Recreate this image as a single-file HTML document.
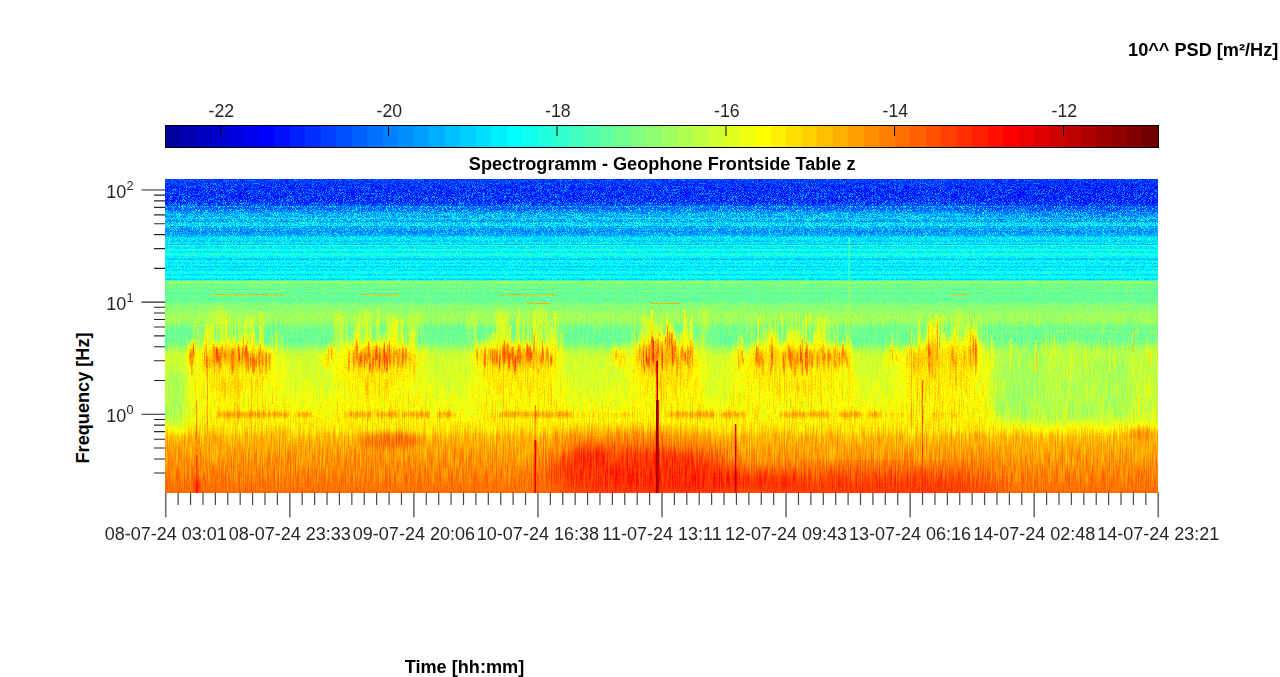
<!DOCTYPE html>
<html><head><meta charset="utf-8"><title>Spectrogramm</title><style>
html,body{margin:0;padding:0;background:#fff;}body{width:1280px;height:677px;overflow:hidden;font-family:"Liberation Sans",sans-serif;}
svg{position:absolute;left:0;top:0;display:block}text{font-family:"Liberation Sans",sans-serif;fill:#262626}
.b{font-weight:bold;font-size:18.15px;fill:#000}.t{font-size:18px}.c{font-size:17.7px}.s{font-size:12.6px}
</style></head><body>
<svg width="1280" height="677" viewBox="0 0 1280 677">
<rect width="1280" height="677" fill="#fff"/>
<defs><linearGradient id="gb" x1="0" y1="0" x2="0" y2="314.0" gradientUnits="userSpaceOnUse"><stop offset="0.0000" stop-color="#2b2b2b"/><stop offset="0.0318" stop-color="#272727"/><stop offset="0.0732" stop-color="#292929"/><stop offset="0.0892" stop-color="#343434"/><stop offset="0.1083" stop-color="#404040"/><stop offset="0.1242" stop-color="#474747"/><stop offset="0.1354" stop-color="#4e4e4e"/><stop offset="0.1465" stop-color="#4d4d4d"/><stop offset="0.1529" stop-color="#434343"/><stop offset="0.1752" stop-color="#414141"/><stop offset="0.1815" stop-color="#484848"/><stop offset="0.1863" stop-color="#545454"/><stop offset="0.2102" stop-color="#545454"/><stop offset="0.2389" stop-color="#575757"/><stop offset="0.2866" stop-color="#5a5a5a"/><stop offset="0.3201" stop-color="#5e5e5e"/><stop offset="0.3232" stop-color="#787878"/><stop offset="0.3599" stop-color="#767676"/><stop offset="0.3694" stop-color="#747474"/><stop offset="0.3901" stop-color="#747474"/><stop offset="0.3949" stop-color="#7c7c7c"/><stop offset="0.4172" stop-color="#7c7c7c"/><stop offset="0.4236" stop-color="#818181"/><stop offset="0.4522" stop-color="#818181"/><stop offset="0.4618" stop-color="#7c7c7c"/><stop offset="0.4777" stop-color="#757575"/><stop offset="0.5191" stop-color="#757575"/><stop offset="0.5414" stop-color="#838383"/><stop offset="0.5605" stop-color="#8d8d8d"/><stop offset="0.6210" stop-color="#8f8f8f"/><stop offset="0.6847" stop-color="#939393"/><stop offset="0.7484" stop-color="#999999"/><stop offset="0.7866" stop-color="#9f9f9f"/><stop offset="0.8025" stop-color="#a2a2a2"/><stop offset="0.8217" stop-color="#ababab"/><stop offset="0.8471" stop-color="#afafaf"/><stop offset="0.8917" stop-color="#b4b4b4"/><stop offset="0.9554" stop-color="#bababa"/><stop offset="0.9968" stop-color="#bebebe"/></linearGradient><filter id="jf" filterUnits="userSpaceOnUse" x="0" y="0" width="993.0" height="314.0" color-interpolation-filters="sRGB"><feTurbulence type="fractalNoise" baseFrequency="2.3 2.7" numOctaves="1" seed="5" result="t1"/><feColorMatrix in="t1" type="matrix" values="2.6 0 0 0 -0.8  2.6 0 0 0 -0.8  2.6 0 0 0 -0.8  0 0 0 0 1" result="n1l"/><feComponentTransfer in="n1l" result="n1"><feFuncR type="gamma" amplitude="1" exponent="2" offset="0"/><feFuncG type="gamma" amplitude="1" exponent="2" offset="0"/><feFuncB type="gamma" amplitude="1" exponent="2" offset="0"/></feComponentTransfer><feFlood flood-color="#000" flood-opacity="0.80" x="0" y="0" width="993.0" height="56" result="fa0"/><feFlood flood-color="#000" flood-opacity="0.40" x="0" y="56" width="993.0" height="46" result="fa1"/><feFlood flood-color="#000" flood-opacity="0.24" x="0" y="102" width="993.0" height="70" result="fa2"/><feFlood flood-color="#000" flood-opacity="0.16" x="0" y="172" width="993.0" height="78" result="fa3"/><feFlood flood-color="#000" flood-opacity="0.06" x="0" y="250" width="993.0" height="64" result="fa4"/><feMerge result="m1"><feMergeNode in="fa0"/><feMergeNode in="fa1"/><feMergeNode in="fa2"/><feMergeNode in="fa3"/><feMergeNode in="fa4"/></feMerge><feGaussianBlur in="m1" stdDeviation="0 8" result="m1b"/><feComposite in="n1" in2="m1b" operator="in" result="n1m"/><feFlood flood-color="#808080" result="mid"/><feFlood flood-color="#4d4d4d" result="midg"/><feMerge result="N1"><feMergeNode in="midg"/><feMergeNode in="n1m"/></feMerge><feTurbulence type="fractalNoise" baseFrequency="0.83 0.045" numOctaves="2" seed="9" result="t2"/><feColorMatrix in="t2" type="matrix" values="2.2 0 0 0 -0.6  2.2 0 0 0 -0.6  2.2 0 0 0 -0.6  0 0 0 0 1" result="n2"/><feFlood flood-color="#000" flood-opacity="0.35" x="0" y="130" width="993.0" height="80" result="sa0"/><feFlood flood-color="#000" flood-opacity="0.60" x="0" y="210" width="993.0" height="103" result="sa1"/><feMerge result="m2"><feMergeNode in="sa0"/><feMergeNode in="sa1"/></feMerge><feGaussianBlur in="m2" stdDeviation="0 12" result="m2b"/><feComposite in="n2" in2="m2b" operator="in" result="n2m"/><feMerge result="N2"><feMergeNode in="mid"/><feMergeNode in="n2m"/></feMerge><feComposite in="SourceGraphic" in2="N1" operator="arithmetic" k1="0" k2="1" k3="0.230" k4="-0.069" result="c1"/><feComposite in="c1" in2="N2" operator="arithmetic" k1="0" k2="1" k3="0.130" k4="-0.065" result="c2"/><feComponentTransfer in="c2"><feFuncR type="discrete" tableValues="0.000 0.000 0.000 0.000 0.000 0.000 0.000 0.000 0.000 0.000 0.000 0.000 0.000 0.000 0.000 0.000 0.000 0.000 0.000 0.000 0.000 0.000 0.000 0.062 0.125 0.188 0.250 0.312 0.375 0.438 0.500 0.562 0.625 0.688 0.750 0.812 0.875 0.938 1.000 1.000 1.000 1.000 1.000 1.000 1.000 1.000 1.000 1.000 1.000 1.000 1.000 1.000 1.000 1.000 1.000 0.938 0.875 0.812 0.750 0.688 0.625 0.562 0.500 0.438"/><feFuncG type="discrete" tableValues="0.000 0.000 0.000 0.000 0.000 0.000 0.000 0.062 0.125 0.188 0.250 0.312 0.375 0.438 0.500 0.562 0.625 0.688 0.750 0.812 0.875 0.938 1.000 1.000 1.000 1.000 1.000 1.000 1.000 1.000 1.000 1.000 1.000 1.000 1.000 1.000 1.000 1.000 1.000 0.938 0.875 0.812 0.750 0.688 0.625 0.562 0.500 0.438 0.375 0.312 0.250 0.188 0.125 0.062 0.000 0.000 0.000 0.000 0.000 0.000 0.000 0.000 0.000 0.000"/><feFuncB type="discrete" tableValues="0.625 0.688 0.750 0.812 0.875 0.938 1.000 1.000 1.000 1.000 1.000 1.000 1.000 1.000 1.000 1.000 1.000 1.000 1.000 1.000 1.000 1.000 1.000 0.938 0.875 0.812 0.750 0.688 0.625 0.562 0.500 0.438 0.375 0.312 0.250 0.188 0.125 0.062 0.000 0.000 0.000 0.000 0.000 0.000 0.000 0.000 0.000 0.000 0.000 0.000 0.000 0.000 0.000 0.000 0.000 0.000 0.000 0.000 0.000 0.000 0.000 0.000 0.000 0.000"/></feComponentTransfer></filter><filter id="bl6" x="-30%" y="-30%" width="160%" height="160%"><feGaussianBlur stdDeviation="6"/></filter><filter id="bl3" x="-30%" y="-30%" width="160%" height="160%"><feGaussianBlur stdDeviation="3"/></filter><filter id="bl07" x="-10%" y="-30%" width="120%" height="160%"><feGaussianBlur stdDeviation="0.6 1.5"/></filter><filter id="bl1" x="-10%" y="-50%" width="120%" height="200%"><feGaussianBlur stdDeviation="1.5"/></filter><filter id="bl12" x="-40%" y="-40%" width="180%" height="180%"><feGaussianBlur stdDeviation="12"/></filter><clipPath id="pc"><rect x="0.7" y="0.5" width="992.3" height="313.0"/></clipPath></defs><g transform="translate(165.0,179.0)" clip-path="url(#pc)"><g filter="url(#jf)"><rect x="0" y="0" width="993.0" height="314.0" fill="url(#gb)"/><rect x="0.0" y="40.0" width="994.0" height="1.5" fill="#646464" opacity="0.35"/><rect x="0.0" y="40.0" width="994.0" height="1.5" fill="#343434" opacity="0.35"/><rect x="0.0" y="40.7" width="994.0" height="1.5" fill="#646464" opacity="0.17"/><rect x="0.0" y="35.4" width="994.0" height="1.0" fill="#646464" opacity="0.37"/><rect x="0.0" y="45.7" width="994.0" height="1.5" fill="#646464" opacity="0.39"/><rect x="0.0" y="46.3" width="994.0" height="1.5" fill="#646464" opacity="0.31"/><rect x="0.0" y="51.8" width="994.0" height="1.0" fill="#343434" opacity="0.20"/><rect x="0.0" y="33.5" width="994.0" height="1.0" fill="#646464" opacity="0.23"/><rect x="0.0" y="44.3" width="994.0" height="1.0" fill="#646464" opacity="0.31"/><rect x="0.0" y="41.5" width="994.0" height="1.5" fill="#343434" opacity="0.31"/><rect x="0.0" y="38.6" width="994.0" height="1.5" fill="#646464" opacity="0.36"/><rect x="0.0" y="47.9" width="994.0" height="1.0" fill="#646464" opacity="0.28"/><rect x="0.0" y="26.9" width="994.0" height="1.5" fill="#646464" opacity="0.25"/><rect x="0.0" y="52.2" width="994.0" height="1.0" fill="#343434" opacity="0.15"/><rect x="0.0" y="47.2" width="994.0" height="1.0" fill="#343434" opacity="0.38"/><rect x="0.0" y="40.6" width="994.0" height="1.5" fill="#343434" opacity="0.17"/><rect x="0.0" y="61.5" width="994.0" height="1.5" fill="#444444" opacity="0.45"/><rect x="0.0" y="65.0" width="994.0" height="1.0" fill="#444444" opacity="0.62"/><rect x="0.0" y="66.0" width="994.0" height="1.0" fill="#7c7c7c" opacity="0.42"/><rect x="0.0" y="70.0" width="994.0" height="1.5" fill="#7c7c7c" opacity="0.32"/><rect x="0.0" y="74.5" width="994.0" height="2.0" fill="#7c7c7c" opacity="0.32"/><rect x="0.0" y="79.5" width="994.0" height="1.5" fill="#444444" opacity="0.75"/><rect x="0.0" y="84.0" width="994.0" height="1.0" fill="#444444" opacity="0.37"/><rect x="0.0" y="87.0" width="994.0" height="1.5" fill="#444444" opacity="0.57"/><rect x="0.0" y="90.0" width="994.0" height="2.0" fill="#444444" opacity="0.34"/><rect x="0.0" y="95.0" width="994.0" height="1.5" fill="#444444" opacity="0.47"/><rect x="0.0" y="99.5" width="994.0" height="2.0" fill="#444444" opacity="0.56"/><rect x="0.0" y="102.6" width="994.0" height="1.2" fill="#939393" opacity="0.55"/><rect x="0.0" y="113.3" width="994.0" height="1.0" fill="#686868" opacity="0.23"/><rect x="0.0" y="124.0" width="994.0" height="1.0" fill="#686868" opacity="0.23"/><rect x="0.0" y="149.2" width="994.0" height="1.0" fill="#686868" opacity="0.23"/><rect x="0.0" y="138.8" width="994.0" height="1.0" fill="#979797" opacity="0.19"/><rect x="0.0" y="134.4" width="994.0" height="1.0" fill="#686868" opacity="0.13"/><rect x="0.0" y="111.7" width="994.0" height="1.0" fill="#979797" opacity="0.17"/><rect x="0.0" y="150.1" width="994.0" height="1.0" fill="#686868" opacity="0.20"/><rect x="0.0" y="160.2" width="994.0" height="1.0" fill="#686868" opacity="0.21"/><rect x="0.0" y="161.7" width="994.0" height="1.0" fill="#979797" opacity="0.14"/><rect x="0.0" y="134.2" width="994.0" height="1.0" fill="#979797" opacity="0.23"/><rect x="0.0" y="109.5" width="994.0" height="1.0" fill="#686868" opacity="0.28"/><rect x="0.0" y="150.7" width="994.0" height="1.0" fill="#686868" opacity="0.19"/><rect x="0.0" y="120.2" width="994.0" height="1.0" fill="#686868" opacity="0.17"/><rect x="0.0" y="137.4" width="994.0" height="1.0" fill="#979797" opacity="0.14"/><rect x="0.0" y="113.4" width="994.0" height="1.0" fill="#686868" opacity="0.18"/><rect x="0.0" y="149.7" width="994.0" height="1.0" fill="#979797" opacity="0.29"/><ellipse cx="925.0" cy="17.0" rx="120.0" ry="14.0" fill="#242424" opacity="0.55" filter="url(#bl12)"/><ellipse cx="135.0" cy="14.0" rx="90.0" ry="9.0" fill="#282828" opacity="0.35" filter="url(#bl12)"/><ellipse cx="395.0" cy="14.0" rx="110.0" ry="9.0" fill="#282828" opacity="0.35" filter="url(#bl12)"/><ellipse cx="635.0" cy="14.0" rx="100.0" ry="9.0" fill="#282828" opacity="0.30" filter="url(#bl12)"/><ellipse cx="11.0" cy="221.0" rx="16.0" ry="30.0" fill="#808080" opacity="0.80" filter="url(#bl6)"/><ellipse cx="880.0" cy="226.0" rx="50.0" ry="16.0" fill="#808080" opacity="0.70" filter="url(#bl6)"/><ellipse cx="910.0" cy="206.0" rx="80.0" ry="35.0" fill="#878787" opacity="0.45" filter="url(#bl12)"/><ellipse cx="869.0" cy="186.0" rx="7.0" ry="30.0" fill="#707070" opacity="0.70" filter="url(#bl6)"/><rect x="831.0" y="171.0" width="175" height="72" fill="#818181" opacity="0.75" filter="url(#bl6)"/><g filter="url(#bl3)" style="mix-blend-mode:lighten"><rect x="21.0" y="183.3" width="4.4" height="82.7" fill="#9d9d9d" opacity="0.45"/><rect x="25.4" y="163.5" width="3.2" height="102.5" fill="#9d9d9d" opacity="0.38"/><rect x="28.6" y="168.0" width="2.3" height="98.0" fill="#9d9d9d" opacity="0.41"/><rect x="30.9" y="140.1" width="3.8" height="125.9" fill="#9d9d9d" opacity="0.62"/><rect x="34.7" y="179.6" width="2.5" height="86.4" fill="#9d9d9d" opacity="0.46"/><rect x="37.2" y="159.1" width="3.9" height="106.9" fill="#9d9d9d" opacity="0.76"/><rect x="41.1" y="136.3" width="2.1" height="129.7" fill="#9d9d9d" opacity="0.60"/><rect x="43.2" y="128.6" width="2.0" height="137.4" fill="#9d9d9d" opacity="0.57"/><rect x="45.3" y="161.9" width="3.7" height="104.1" fill="#9d9d9d" opacity="0.74"/><rect x="48.9" y="163.8" width="3.8" height="102.2" fill="#9d9d9d" opacity="0.70"/><rect x="52.8" y="127.3" width="4.1" height="138.7" fill="#9d9d9d" opacity="0.89"/><rect x="56.8" y="169.2" width="2.5" height="96.8" fill="#9d9d9d" opacity="0.72"/><rect x="59.3" y="159.8" width="5.6" height="106.2" fill="#9d9d9d" opacity="0.78"/><rect x="64.9" y="167.7" width="4.1" height="98.3" fill="#9d9d9d" opacity="0.92"/><rect x="68.9" y="156.3" width="4.0" height="109.7" fill="#9d9d9d" opacity="0.65"/><rect x="72.9" y="168.7" width="4.5" height="97.3" fill="#9d9d9d" opacity="0.63"/><rect x="77.5" y="156.2" width="2.9" height="109.8" fill="#9d9d9d" opacity="0.63"/><rect x="80.3" y="159.3" width="2.5" height="106.7" fill="#9d9d9d" opacity="0.56"/><rect x="82.9" y="173.5" width="2.3" height="92.5" fill="#9d9d9d" opacity="0.58"/><rect x="85.1" y="172.7" width="3.9" height="93.3" fill="#9d9d9d" opacity="0.68"/><rect x="89.0" y="167.9" width="4.1" height="98.1" fill="#9d9d9d" opacity="0.83"/><rect x="93.1" y="161.2" width="4.5" height="104.8" fill="#9d9d9d" opacity="0.60"/><rect x="97.6" y="170.4" width="4.4" height="95.6" fill="#9d9d9d" opacity="0.60"/><rect x="102.0" y="169.5" width="4.6" height="96.5" fill="#9d9d9d" opacity="0.59"/><rect x="106.6" y="175.9" width="2.8" height="90.1" fill="#9d9d9d" opacity="0.66"/><rect x="109.4" y="181.8" width="5.2" height="84.2" fill="#9d9d9d" opacity="0.43"/><rect x="114.6" y="176.8" width="4.1" height="89.2" fill="#9d9d9d" opacity="0.38"/><rect x="118.7" y="181.1" width="2.8" height="84.9" fill="#9d9d9d" opacity="0.54"/></g><ellipse cx="70.0" cy="191.0" rx="36.0" ry="24.0" fill="#a9a9a9" opacity="0.40" filter="url(#bl6)"/><rect x="94.5" y="132.3" width="1.5" height="46.6" fill="#9f9f9f" opacity="0.63"/><rect x="70.0" y="172.4" width="1.0" height="86.8" fill="#adadad" opacity="0.33"/><rect x="61.4" y="181.5" width="1.0" height="59.8" fill="#a3a3a3" opacity="0.55"/><rect x="22.6" y="159.9" width="1.5" height="28.7" fill="#9e9e9e" opacity="0.33"/><rect x="41.7" y="198.7" width="1.0" height="51.1" fill="#aeaeae" opacity="0.27"/><rect x="108.4" y="205.1" width="1.0" height="40.1" fill="#afafaf" opacity="0.24"/><rect x="109.4" y="179.9" width="1.0" height="44.8" fill="#a8a8a8" opacity="0.29"/><rect x="95.8" y="132.3" width="1.0" height="67.1" fill="#9d9d9d" opacity="0.27"/><rect x="73.2" y="202.6" width="1.0" height="39.5" fill="#b3b3b3" opacity="0.56"/><rect x="71.7" y="183.6" width="1.0" height="77.0" fill="#ababab" opacity="0.49"/><rect x="94.8" y="151.7" width="1.0" height="48.4" fill="#9f9f9f" opacity="0.59"/><rect x="75.8" y="143.2" width="1.0" height="57.4" fill="#9c9c9c" opacity="0.36"/><rect x="74.3" y="147.5" width="1.0" height="37.9" fill="#9e9e9e" opacity="0.57"/><rect x="24.7" y="186.6" width="1.0" height="52.4" fill="#afafaf" opacity="0.25"/><rect x="69.1" y="168.6" width="1.0" height="76.6" fill="#a8a8a8" opacity="0.58"/><rect x="110.6" y="152.0" width="2.0" height="23.4" fill="#a4a4a4" opacity="0.46"/><rect x="110.3" y="138.4" width="1.0" height="47.2" fill="#a4a4a4" opacity="0.23"/><rect x="96.8" y="138.6" width="1.5" height="40.4" fill="#9c9c9c" opacity="0.39"/><rect x="81.5" y="156.5" width="1.5" height="18.8" fill="#a1a1a1" opacity="0.60"/><rect x="106.4" y="156.8" width="1.0" height="43.1" fill="#9f9f9f" opacity="0.49"/><rect x="73.3" y="137.0" width="1.0" height="53.0" fill="#9b9b9b" opacity="0.63"/><rect x="99.8" y="178.6" width="1.0" height="56.5" fill="#b2b2b2" opacity="0.26"/><rect x="117.8" y="171.4" width="1.0" height="60.4" fill="#aeaeae" opacity="0.19"/><rect x="31.3" y="182.9" width="1.0" height="73.7" fill="#a2a2a2" opacity="0.26"/><rect x="87.8" y="137.5" width="1.5" height="57.4" fill="#999999" opacity="0.49"/><rect x="94.8" y="156.4" width="1.0" height="21.2" fill="#9e9e9e" opacity="0.27"/><rect x="95.2" y="164.6" width="1.0" height="23.2" fill="#9a9a9a" opacity="0.34"/><rect x="102.7" y="203.1" width="1.0" height="22.2" fill="#a1a1a1" opacity="0.44"/><rect x="66.4" y="179.1" width="1.0" height="62.9" fill="#aaaaaa" opacity="0.40"/><rect x="79.7" y="155.3" width="1.0" height="45.3" fill="#9d9d9d" opacity="0.45"/><rect x="57.5" y="190.2" width="1.0" height="35.1" fill="#afafaf" opacity="0.35"/><rect x="30.1" y="201.0" width="1.0" height="60.9" fill="#b2b2b2" opacity="0.29"/><rect x="40.3" y="144.6" width="1.5" height="53.1" fill="#a4a4a4" opacity="0.51"/><rect x="96.7" y="182.2" width="1.0" height="79.1" fill="#b1b1b1" opacity="0.42"/><rect x="95.7" y="182.2" width="1.0" height="71.3" fill="#a1a1a1" opacity="0.32"/><rect x="67.0" y="142.2" width="1.0" height="51.2" fill="#9b9b9b" opacity="0.72"/><rect x="85.9" y="154.3" width="1.0" height="36.7" fill="#9d9d9d" opacity="0.71"/><rect x="83.7" y="196.5" width="1.0" height="68.6" fill="#a0a0a0" opacity="0.45"/><rect x="92.9" y="145.6" width="1.0" height="27.2" fill="#a0a0a0" opacity="0.27"/><rect x="46.8" y="143.4" width="2.0" height="46.5" fill="#a5a5a5" opacity="0.49"/><rect x="117.5" y="165.7" width="1.0" height="8.0" fill="#9d9d9d" opacity="0.40"/><rect x="59.0" y="200.2" width="1.0" height="45.2" fill="#ababab" opacity="0.39"/><rect x="69.5" y="143.7" width="1.5" height="38.2" fill="#9e9e9e" opacity="0.42"/><rect x="111.2" y="195.9" width="1.0" height="26.3" fill="#afafaf" opacity="0.28"/><rect x="82.8" y="154.9" width="1.5" height="18.0" fill="#a2a2a2" opacity="0.31"/><rect x="116.9" y="168.9" width="1.0" height="92.8" fill="#a8a8a8" opacity="0.23"/><rect x="115.4" y="155.1" width="2.0" height="48.7" fill="#999999" opacity="0.40"/><rect x="45.5" y="168.0" width="1.0" height="71.8" fill="#a2a2a2" opacity="0.48"/><rect x="56.2" y="143.1" width="2.0" height="32.8" fill="#9e9e9e" opacity="0.40"/><rect x="77.9" y="158.0" width="1.0" height="31.6" fill="#a5a5a5" opacity="0.62"/><rect x="44.9" y="164.1" width="1.5" height="34.3" fill="#9b9b9b" opacity="0.49"/><rect x="91.6" y="173.6" width="1.0" height="59.9" fill="#a4a4a4" opacity="0.52"/><rect x="70.2" y="173.8" width="1.0" height="77.9" fill="#acacac" opacity="0.25"/><rect x="46.9" y="132.2" width="1.5" height="46.6" fill="#989898" opacity="0.30"/><rect x="86.9" y="153.3" width="2.0" height="30.8" fill="#9c9c9c" opacity="0.42"/><rect x="69.5" y="161.2" width="2.0" height="37.9" fill="#a3a3a3" opacity="0.58"/><rect x="95.8" y="146.9" width="1.0" height="33.1" fill="#9d9d9d" opacity="0.51"/><rect x="117.0" y="156.0" width="1.0" height="41.1" fill="#9d9d9d" opacity="0.26"/><rect x="31.3" y="169.1" width="1.0" height="55.6" fill="#ababab" opacity="0.28"/><rect x="87.8" y="158.7" width="1.0" height="14.9" fill="#a4a4a4" opacity="0.53"/><rect x="88.7" y="158.4" width="1.0" height="24.0" fill="#9a9a9a" opacity="0.55"/><rect x="53.4" y="178.9" width="1.0" height="61.9" fill="#ababab" opacity="0.53"/><rect x="88.0" y="149.7" width="2.0" height="56.0" fill="#9c9c9c" opacity="0.45"/><rect x="111.7" y="175.9" width="1.0" height="61.3" fill="#a7a7a7" opacity="0.23"/><rect x="60.0" y="136.5" width="2.0" height="54.2" fill="#9f9f9f" opacity="0.66"/><rect x="76.0" y="157.2" width="1.5" height="44.6" fill="#a3a3a3" opacity="0.40"/><rect x="27.5" y="146.0" width="2.0" height="25.8" fill="#989898" opacity="0.33"/><rect x="97.7" y="134.6" width="1.5" height="62.2" fill="#999999" opacity="0.49"/><rect x="35.8" y="192.0" width="1.0" height="40.1" fill="#a4a4a4" opacity="0.38"/><rect x="72.1" y="181.8" width="1.0" height="54.4" fill="#b3b3b3" opacity="0.48"/><rect x="69.4" y="155.7" width="1.0" height="40.1" fill="#9d9d9d" opacity="0.67"/><rect x="86.0" y="198.2" width="1.0" height="60.3" fill="#b1b1b1" opacity="0.55"/><ellipse cx="26.5" cy="178.0" rx="4.8" ry="10.0" fill="#b5b5b5" opacity="0.43" filter="url(#bl3)"/><g filter="url(#bl07)"><rect x="27.5" y="160.9" width="2.0" height="17.0" fill="#d1d1d1" opacity="0.53"/><rect x="24.7" y="173.0" width="2.0" height="7.4" fill="#cccccc" opacity="0.35"/><rect x="25.7" y="164.5" width="2.0" height="18.3" fill="#c3c3c3" opacity="0.28"/><rect x="27.5" y="168.9" width="1.0" height="16.6" fill="#d1d1d1" opacity="0.48"/><rect x="23.1" y="163.4" width="1.0" height="9.7" fill="#c0c0c0" opacity="0.31"/><rect x="24.6" y="171.3" width="1.0" height="15.8" fill="#c6c6c6" opacity="0.53"/><rect x="25.8" y="181.8" width="2.0" height="14.4" fill="#d0d0d0" opacity="0.40"/><rect x="25.8" y="161.4" width="1.0" height="19.3" fill="#c7c7c7" opacity="0.31"/></g><ellipse cx="43.5" cy="178.0" rx="6.7" ry="10.0" fill="#b5b5b5" opacity="0.37" filter="url(#bl3)"/><g filter="url(#bl07)"><rect x="38.5" y="182.0" width="1.5" height="10.8" fill="#cecece" opacity="0.23"/><rect x="48.2" y="165.6" width="2.0" height="18.4" fill="#d1d1d1" opacity="0.33"/><rect x="40.7" y="162.5" width="1.5" height="11.2" fill="#bfbfbf" opacity="0.46"/><rect x="46.9" y="179.8" width="1.5" height="7.0" fill="#c8c8c8" opacity="0.22"/><rect x="44.3" y="170.2" width="1.0" height="18.7" fill="#cfcfcf" opacity="0.23"/><rect x="41.0" y="173.5" width="1.0" height="15.7" fill="#d1d1d1" opacity="0.40"/><rect x="38.9" y="171.6" width="1.0" height="12.6" fill="#cecece" opacity="0.32"/><rect x="48.1" y="167.9" width="2.0" height="6.4" fill="#c0c0c0" opacity="0.36"/><rect x="43.8" y="178.9" width="1.5" height="9.7" fill="#c5c5c5" opacity="0.36"/><rect x="49.0" y="179.2" width="1.0" height="15.0" fill="#c4c4c4" opacity="0.40"/><rect x="39.2" y="163.4" width="1.0" height="19.5" fill="#cbcbcb" opacity="0.21"/></g><ellipse cx="71.0" cy="178.0" rx="22.4" ry="10.0" fill="#b5b5b5" opacity="0.62" filter="url(#bl6)"/><g filter="url(#bl07)"><rect x="65.6" y="174.0" width="1.0" height="15.7" fill="#c2c2c2" opacity="0.40"/><rect x="83.0" y="176.7" width="1.0" height="15.8" fill="#c2c2c2" opacity="0.52"/><rect x="72.7" y="164.9" width="1.5" height="9.5" fill="#cdcdcd" opacity="0.60"/><rect x="52.8" y="176.7" width="1.5" height="6.6" fill="#d2d2d2" opacity="0.60"/><rect x="80.8" y="178.0" width="2.0" height="10.0" fill="#bdbdbd" opacity="0.41"/><rect x="53.2" y="170.4" width="2.0" height="7.7" fill="#bcbcbc" opacity="0.56"/><rect x="80.0" y="167.0" width="1.0" height="6.5" fill="#bfbfbf" opacity="0.41"/><rect x="66.9" y="183.4" width="1.0" height="11.4" fill="#cbcbcb" opacity="0.70"/><rect x="85.1" y="178.1" width="1.5" height="10.8" fill="#d1d1d1" opacity="0.63"/><rect x="81.0" y="165.9" width="1.0" height="16.8" fill="#cbcbcb" opacity="0.62"/><rect x="49.8" y="169.9" width="1.5" height="10.0" fill="#c3c3c3" opacity="0.55"/><rect x="73.5" y="174.7" width="1.0" height="9.4" fill="#cacaca" opacity="0.42"/><rect x="82.7" y="173.5" width="1.0" height="18.5" fill="#c4c4c4" opacity="0.58"/><rect x="55.2" y="167.9" width="1.0" height="12.7" fill="#c9c9c9" opacity="0.36"/><rect x="78.0" y="153.9" width="1.0" height="16.6" fill="#c1c1c1" opacity="0.61"/><rect x="79.7" y="166.8" width="2.0" height="10.4" fill="#d0d0d0" opacity="0.55"/><rect x="81.1" y="184.8" width="1.0" height="8.6" fill="#c9c9c9" opacity="0.47"/><rect x="89.0" y="181.1" width="1.0" height="14.0" fill="#d2d2d2" opacity="0.35"/><rect x="79.1" y="172.3" width="1.5" height="10.5" fill="#cfcfcf" opacity="0.43"/><rect x="73.1" y="175.4" width="1.0" height="7.7" fill="#c3c3c3" opacity="0.65"/><rect x="81.5" y="173.3" width="1.0" height="10.7" fill="#bfbfbf" opacity="0.54"/><rect x="50.5" y="169.7" width="1.5" height="11.1" fill="#c8c8c8" opacity="0.47"/><rect x="74.0" y="172.5" width="1.0" height="10.0" fill="#cdcdcd" opacity="0.70"/><rect x="66.7" y="170.4" width="2.0" height="10.2" fill="#cdcdcd" opacity="0.57"/><rect x="92.8" y="169.3" width="2.0" height="17.6" fill="#cfcfcf" opacity="0.40"/><rect x="54.0" y="176.2" width="2.0" height="12.8" fill="#d1d1d1" opacity="0.49"/><rect x="51.4" y="168.2" width="2.0" height="15.9" fill="#cdcdcd" opacity="0.62"/><rect x="82.1" y="172.5" width="1.0" height="6.0" fill="#cfcfcf" opacity="0.46"/><rect x="87.4" y="175.2" width="2.0" height="19.6" fill="#cccccc" opacity="0.59"/><rect x="59.5" y="171.8" width="1.0" height="8.5" fill="#d3d3d3" opacity="0.68"/><rect x="87.3" y="177.9" width="2.0" height="10.5" fill="#c9c9c9" opacity="0.42"/><rect x="77.6" y="172.5" width="1.0" height="6.1" fill="#bebebe" opacity="0.59"/><rect x="90.8" y="176.8" width="1.0" height="5.0" fill="#cdcdcd" opacity="0.36"/><rect x="56.6" y="165.9" width="1.0" height="13.0" fill="#c4c4c4" opacity="0.61"/><rect x="51.0" y="177.5" width="1.5" height="5.5" fill="#c3c3c3" opacity="0.57"/><rect x="90.1" y="180.1" width="1.5" height="8.1" fill="#d0d0d0" opacity="0.66"/><rect x="51.6" y="172.2" width="1.5" height="9.7" fill="#d1d1d1" opacity="0.36"/><rect x="77.0" y="169.2" width="1.0" height="13.0" fill="#c0c0c0" opacity="0.75"/><rect x="51.2" y="168.0" width="1.5" height="6.6" fill="#d2d2d2" opacity="0.47"/><rect x="67.5" y="171.9" width="2.0" height="19.4" fill="#c5c5c5" opacity="0.43"/><rect x="86.9" y="171.2" width="1.0" height="6.8" fill="#c2c2c2" opacity="0.67"/></g><ellipse cx="100.5" cy="178.0" rx="8.6" ry="10.0" fill="#b5b5b5" opacity="0.37" filter="url(#bl3)"/><g filter="url(#bl07)"><rect x="100.5" y="168.2" width="1.0" height="17.1" fill="#c9c9c9" opacity="0.27"/><rect x="97.5" y="172.8" width="1.0" height="18.9" fill="#c2c2c2" opacity="0.38"/><rect x="94.3" y="177.4" width="1.0" height="12.9" fill="#bbbbbb" opacity="0.37"/><rect x="101.1" y="171.7" width="1.0" height="11.4" fill="#bfbfbf" opacity="0.48"/><rect x="95.8" y="179.1" width="1.0" height="5.4" fill="#d3d3d3" opacity="0.22"/><rect x="99.9" y="178.0" width="2.0" height="16.3" fill="#bbbbbb" opacity="0.45"/><rect x="93.9" y="177.4" width="1.5" height="18.6" fill="#cbcbcb" opacity="0.42"/><rect x="100.8" y="175.4" width="1.0" height="12.6" fill="#c9c9c9" opacity="0.42"/><rect x="94.7" y="163.9" width="1.5" height="13.2" fill="#cecece" opacity="0.42"/><rect x="96.5" y="175.1" width="1.0" height="12.3" fill="#d0d0d0" opacity="0.37"/><rect x="96.9" y="179.4" width="2.0" height="5.8" fill="#d0d0d0" opacity="0.26"/><rect x="95.3" y="189.3" width="2.0" height="5.3" fill="#cfcfcf" opacity="0.35"/><rect x="103.8" y="175.5" width="1.0" height="6.7" fill="#c9c9c9" opacity="0.36"/><rect x="104.9" y="172.6" width="1.0" height="8.6" fill="#bdbdbd" opacity="0.32"/><rect x="103.4" y="173.5" width="2.0" height="16.7" fill="#bdbdbd" opacity="0.43"/></g><g filter="url(#bl3)" style="mix-blend-mode:lighten"><rect x="167.0" y="168.6" width="2.7" height="97.4" fill="#9d9d9d" opacity="0.54"/><rect x="169.7" y="132.7" width="5.3" height="133.3" fill="#9d9d9d" opacity="0.45"/><rect x="175.0" y="133.9" width="2.9" height="132.1" fill="#9d9d9d" opacity="0.61"/><rect x="177.9" y="162.6" width="5.9" height="103.4" fill="#9d9d9d" opacity="0.64"/><rect x="183.8" y="162.1" width="2.2" height="103.9" fill="#9d9d9d" opacity="0.50"/><rect x="186.0" y="162.5" width="3.6" height="103.5" fill="#9d9d9d" opacity="0.50"/><rect x="189.5" y="176.7" width="2.1" height="89.3" fill="#9d9d9d" opacity="0.75"/><rect x="191.7" y="159.7" width="2.9" height="106.3" fill="#9d9d9d" opacity="0.59"/><rect x="194.6" y="173.8" width="3.8" height="92.2" fill="#9d9d9d" opacity="0.64"/><rect x="198.5" y="132.6" width="5.9" height="133.4" fill="#9d9d9d" opacity="0.78"/><rect x="204.4" y="159.1" width="2.2" height="106.9" fill="#9d9d9d" opacity="0.88"/><rect x="206.6" y="170.8" width="4.4" height="95.2" fill="#9d9d9d" opacity="0.70"/><rect x="211.0" y="159.4" width="5.4" height="106.6" fill="#9d9d9d" opacity="0.64"/><rect x="216.3" y="155.1" width="3.4" height="110.9" fill="#9d9d9d" opacity="0.61"/><rect x="219.7" y="156.0" width="2.8" height="110.0" fill="#9d9d9d" opacity="0.67"/><rect x="222.5" y="173.5" width="3.8" height="92.5" fill="#9d9d9d" opacity="0.88"/><rect x="226.3" y="136.7" width="2.8" height="129.3" fill="#9d9d9d" opacity="0.67"/><rect x="229.2" y="153.2" width="3.1" height="112.8" fill="#9d9d9d" opacity="0.62"/><rect x="232.3" y="173.8" width="3.6" height="92.2" fill="#9d9d9d" opacity="0.61"/><rect x="235.8" y="157.9" width="3.4" height="108.1" fill="#9d9d9d" opacity="0.62"/><rect x="239.3" y="171.6" width="5.1" height="94.4" fill="#9d9d9d" opacity="0.48"/><rect x="244.3" y="139.4" width="3.3" height="126.6" fill="#9d9d9d" opacity="0.55"/><rect x="247.6" y="132.5" width="5.1" height="133.5" fill="#9d9d9d" opacity="0.49"/><rect x="252.7" y="165.0" width="2.2" height="101.0" fill="#9d9d9d" opacity="0.39"/><rect x="254.9" y="172.3" width="3.2" height="93.7" fill="#9d9d9d" opacity="0.39"/><rect x="258.1" y="168.7" width="4.8" height="97.3" fill="#9d9d9d" opacity="0.53"/></g><ellipse cx="213.0" cy="191.0" rx="33.6" ry="24.0" fill="#a9a9a9" opacity="0.40" filter="url(#bl6)"/><rect x="181.2" y="143.2" width="2.0" height="52.7" fill="#999999" opacity="0.40"/><rect x="200.0" y="143.4" width="1.0" height="49.0" fill="#989898" opacity="0.30"/><rect x="224.7" y="159.5" width="1.5" height="45.7" fill="#a1a1a1" opacity="0.32"/><rect x="244.8" y="145.9" width="1.5" height="29.3" fill="#9b9b9b" opacity="0.43"/><rect x="176.1" y="148.7" width="2.0" height="24.4" fill="#a4a4a4" opacity="0.28"/><rect x="231.3" y="164.5" width="1.0" height="13.5" fill="#9c9c9c" opacity="0.57"/><rect x="214.8" y="202.3" width="1.0" height="54.9" fill="#a9a9a9" opacity="0.34"/><rect x="244.8" y="166.7" width="1.0" height="35.9" fill="#9c9c9c" opacity="0.24"/><rect x="204.4" y="147.6" width="2.0" height="43.9" fill="#a1a1a1" opacity="0.69"/><rect x="174.5" y="146.6" width="1.5" height="37.4" fill="#9b9b9b" opacity="0.37"/><rect x="184.7" y="154.8" width="1.5" height="49.6" fill="#989898" opacity="0.49"/><rect x="187.5" y="133.3" width="2.0" height="56.7" fill="#989898" opacity="0.28"/><rect x="209.8" y="164.8" width="1.0" height="19.7" fill="#a1a1a1" opacity="0.42"/><rect x="212.6" y="129.8" width="1.5" height="62.4" fill="#9b9b9b" opacity="0.61"/><rect x="189.1" y="151.3" width="1.0" height="33.5" fill="#9f9f9f" opacity="0.58"/><rect x="236.9" y="161.6" width="1.5" height="40.3" fill="#9b9b9b" opacity="0.30"/><rect x="169.7" y="174.3" width="1.0" height="64.5" fill="#a2a2a2" opacity="0.17"/><rect x="182.5" y="158.1" width="1.5" height="41.1" fill="#9d9d9d" opacity="0.33"/><rect x="235.4" y="139.7" width="1.5" height="40.0" fill="#a1a1a1" opacity="0.62"/><rect x="234.4" y="205.6" width="1.0" height="52.2" fill="#b1b1b1" opacity="0.32"/><rect x="244.4" y="157.9" width="2.0" height="14.5" fill="#a4a4a4" opacity="0.24"/><rect x="190.9" y="160.3" width="1.5" height="24.4" fill="#9d9d9d" opacity="0.53"/><rect x="184.5" y="174.2" width="1.0" height="72.2" fill="#a2a2a2" opacity="0.47"/><rect x="225.7" y="157.0" width="1.0" height="23.4" fill="#999999" opacity="0.45"/><rect x="228.2" y="136.7" width="1.0" height="34.8" fill="#9b9b9b" opacity="0.40"/><rect x="190.7" y="181.5" width="1.0" height="70.1" fill="#a2a2a2" opacity="0.27"/><rect x="257.8" y="173.8" width="1.0" height="63.3" fill="#aaaaaa" opacity="0.29"/><rect x="204.4" y="199.3" width="1.0" height="60.2" fill="#a3a3a3" opacity="0.27"/><rect x="207.5" y="192.0" width="1.0" height="39.1" fill="#aeaeae" opacity="0.39"/><rect x="180.8" y="157.9" width="1.5" height="20.6" fill="#a3a3a3" opacity="0.27"/><rect x="183.8" y="166.8" width="2.0" height="13.0" fill="#9d9d9d" opacity="0.29"/><rect x="247.6" y="154.6" width="2.0" height="26.0" fill="#9b9b9b" opacity="0.28"/><rect x="211.4" y="138.6" width="1.0" height="34.2" fill="#989898" opacity="0.64"/><rect x="228.3" y="142.3" width="1.0" height="33.5" fill="#a5a5a5" opacity="0.45"/><rect x="170.9" y="156.5" width="1.0" height="34.0" fill="#9f9f9f" opacity="0.33"/><rect x="224.1" y="164.2" width="2.0" height="37.1" fill="#9f9f9f" opacity="0.70"/><rect x="172.2" y="203.8" width="1.0" height="41.5" fill="#adadad" opacity="0.20"/><rect x="170.2" y="138.1" width="1.0" height="49.2" fill="#989898" opacity="0.26"/><rect x="237.0" y="140.3" width="2.0" height="63.1" fill="#9d9d9d" opacity="0.56"/><rect x="242.5" y="205.4" width="1.0" height="20.1" fill="#b2b2b2" opacity="0.30"/><rect x="231.5" y="164.0" width="1.0" height="7.9" fill="#9b9b9b" opacity="0.43"/><rect x="201.2" y="198.4" width="1.0" height="39.0" fill="#acacac" opacity="0.36"/><rect x="193.1" y="178.9" width="1.0" height="46.4" fill="#a6a6a6" opacity="0.46"/><rect x="187.0" y="187.8" width="1.0" height="63.8" fill="#a3a3a3" opacity="0.24"/><rect x="180.9" y="148.9" width="1.0" height="22.4" fill="#9d9d9d" opacity="0.33"/><rect x="216.3" y="174.2" width="1.0" height="86.4" fill="#a6a6a6" opacity="0.51"/><rect x="177.8" y="183.2" width="1.0" height="81.1" fill="#a4a4a4" opacity="0.27"/><rect x="231.5" y="140.4" width="1.5" height="54.3" fill="#a4a4a4" opacity="0.59"/><rect x="215.3" y="156.0" width="1.0" height="38.2" fill="#9a9a9a" opacity="0.58"/><rect x="247.9" y="191.1" width="1.0" height="52.6" fill="#ababab" opacity="0.20"/><rect x="243.4" y="184.1" width="1.0" height="66.8" fill="#a8a8a8" opacity="0.29"/><rect x="188.7" y="152.5" width="1.0" height="36.6" fill="#9f9f9f" opacity="0.43"/><rect x="193.6" y="132.5" width="2.0" height="49.9" fill="#9c9c9c" opacity="0.38"/><rect x="224.1" y="146.8" width="1.0" height="43.5" fill="#a4a4a4" opacity="0.35"/><rect x="257.1" y="144.4" width="1.0" height="56.0" fill="#a3a3a3" opacity="0.36"/><rect x="214.0" y="168.6" width="1.0" height="91.6" fill="#aeaeae" opacity="0.34"/><rect x="240.6" y="151.8" width="1.0" height="49.5" fill="#9e9e9e" opacity="0.59"/><rect x="189.5" y="147.4" width="1.0" height="50.1" fill="#989898" opacity="0.45"/><rect x="173.0" y="204.9" width="1.0" height="19.0" fill="#b2b2b2" opacity="0.32"/><rect x="184.1" y="166.6" width="1.0" height="37.9" fill="#a3a3a3" opacity="0.28"/><rect x="184.4" y="163.6" width="2.0" height="29.0" fill="#989898" opacity="0.59"/><rect x="186.6" y="164.1" width="1.0" height="32.4" fill="#9f9f9f" opacity="0.61"/><rect x="202.0" y="194.0" width="1.0" height="65.0" fill="#b2b2b2" opacity="0.47"/><rect x="186.8" y="160.0" width="2.0" height="17.0" fill="#989898" opacity="0.35"/><rect x="191.3" y="153.9" width="1.0" height="27.9" fill="#a5a5a5" opacity="0.54"/><rect x="234.3" y="142.2" width="1.0" height="43.1" fill="#989898" opacity="0.37"/><rect x="201.7" y="139.8" width="1.0" height="35.9" fill="#a5a5a5" opacity="0.44"/><ellipse cx="163.5" cy="178.0" rx="7.7" ry="10.0" fill="#b5b5b5" opacity="0.25" filter="url(#bl3)"/><g filter="url(#bl07)"><rect x="166.1" y="165.6" width="1.0" height="8.5" fill="#c2c2c2" opacity="0.30"/><rect x="160.7" y="177.1" width="2.0" height="11.8" fill="#c5c5c5" opacity="0.27"/><rect x="164.8" y="165.6" width="1.0" height="11.7" fill="#c4c4c4" opacity="0.20"/><rect x="164.6" y="168.2" width="1.0" height="14.9" fill="#cbcbcb" opacity="0.18"/><rect x="162.3" y="170.9" width="1.5" height="7.0" fill="#c5c5c5" opacity="0.19"/><rect x="158.3" y="181.6" width="1.0" height="6.6" fill="#c6c6c6" opacity="0.18"/><rect x="167.3" y="168.9" width="1.0" height="5.2" fill="#cdcdcd" opacity="0.26"/><rect x="161.5" y="186.1" width="1.0" height="5.3" fill="#c6c6c6" opacity="0.21"/><rect x="163.0" y="165.1" width="1.0" height="9.7" fill="#d2d2d2" opacity="0.32"/><rect x="169.9" y="162.5" width="1.0" height="14.7" fill="#d3d3d3" opacity="0.15"/><rect x="163.0" y="178.8" width="1.0" height="11.0" fill="#c8c8c8" opacity="0.25"/><rect x="163.5" y="178.0" width="1.0" height="6.4" fill="#bbbbbb" opacity="0.31"/><rect x="166.0" y="163.8" width="1.5" height="16.8" fill="#cbcbcb" opacity="0.31"/></g><ellipse cx="209.0" cy="178.0" rx="27.1" ry="10.0" fill="#b5b5b5" opacity="0.62" filter="url(#bl6)"/><g filter="url(#bl07)"><rect x="207.6" y="178.7" width="1.5" height="7.3" fill="#d0d0d0" opacity="0.78"/><rect x="230.4" y="171.4" width="1.5" height="5.4" fill="#c5c5c5" opacity="0.60"/><rect x="234.6" y="168.4" width="1.0" height="20.0" fill="#bdbdbd" opacity="0.46"/><rect x="217.8" y="169.3" width="1.5" height="12.6" fill="#c2c2c2" opacity="0.70"/><rect x="195.3" y="172.3" width="2.0" height="8.3" fill="#bfbfbf" opacity="0.40"/><rect x="189.4" y="169.7" width="1.0" height="18.5" fill="#bfbfbf" opacity="0.60"/><rect x="191.4" y="159.7" width="1.0" height="15.7" fill="#c5c5c5" opacity="0.35"/><rect x="190.3" y="159.8" width="2.0" height="17.3" fill="#bfbfbf" opacity="0.59"/><rect x="183.5" y="171.8" width="1.0" height="19.5" fill="#c5c5c5" opacity="0.48"/><rect x="193.6" y="174.4" width="2.0" height="13.1" fill="#c3c3c3" opacity="0.57"/><rect x="217.3" y="181.3" width="1.0" height="13.5" fill="#c5c5c5" opacity="0.48"/><rect x="221.9" y="164.9" width="1.5" height="8.9" fill="#bdbdbd" opacity="0.71"/><rect x="202.8" y="171.7" width="1.5" height="6.8" fill="#cfcfcf" opacity="0.38"/><rect x="210.5" y="167.4" width="2.0" height="13.2" fill="#cfcfcf" opacity="0.65"/><rect x="220.5" y="173.5" width="2.0" height="19.3" fill="#cdcdcd" opacity="0.52"/><rect x="214.0" y="175.8" width="1.5" height="6.6" fill="#d2d2d2" opacity="0.51"/><rect x="214.3" y="167.8" width="1.0" height="14.1" fill="#c3c3c3" opacity="0.57"/><rect x="209.9" y="173.3" width="1.0" height="16.3" fill="#d0d0d0" opacity="0.45"/><rect x="213.8" y="175.3" width="1.5" height="14.7" fill="#c5c5c5" opacity="0.48"/><rect x="218.7" y="162.5" width="1.0" height="6.3" fill="#cfcfcf" opacity="0.50"/><rect x="199.1" y="174.8" width="1.0" height="14.6" fill="#d3d3d3" opacity="0.57"/><rect x="203.3" y="166.1" width="1.0" height="6.3" fill="#d1d1d1" opacity="0.64"/><rect x="183.2" y="179.6" width="1.0" height="13.7" fill="#cfcfcf" opacity="0.57"/><rect x="200.1" y="167.1" width="1.0" height="14.4" fill="#bfbfbf" opacity="0.39"/><rect x="219.0" y="176.3" width="1.0" height="15.2" fill="#c6c6c6" opacity="0.75"/><rect x="221.3" y="176.4" width="1.5" height="17.5" fill="#cbcbcb" opacity="0.60"/><rect x="188.1" y="171.8" width="1.0" height="19.3" fill="#d1d1d1" opacity="0.45"/><rect x="204.4" y="174.7" width="1.0" height="13.0" fill="#bfbfbf" opacity="0.47"/><rect x="204.0" y="184.1" width="2.0" height="8.0" fill="#c7c7c7" opacity="0.66"/><rect x="203.0" y="162.0" width="1.0" height="16.7" fill="#c8c8c8" opacity="0.73"/><rect x="223.7" y="168.9" width="1.5" height="17.3" fill="#c4c4c4" opacity="0.71"/><rect x="218.9" y="173.0" width="2.0" height="11.8" fill="#c4c4c4" opacity="0.61"/><rect x="207.9" y="175.1" width="1.0" height="15.5" fill="#cacaca" opacity="0.51"/><rect x="204.2" y="174.6" width="1.0" height="5.7" fill="#cecece" opacity="0.46"/><rect x="195.1" y="177.8" width="1.0" height="6.0" fill="#d3d3d3" opacity="0.76"/><rect x="206.6" y="183.5" width="1.0" height="12.3" fill="#c0c0c0" opacity="0.63"/><rect x="218.7" y="164.9" width="1.5" height="19.9" fill="#c9c9c9" opacity="0.60"/><rect x="200.0" y="174.4" width="1.5" height="7.3" fill="#cfcfcf" opacity="0.39"/><rect x="224.3" y="172.2" width="1.5" height="13.0" fill="#bebebe" opacity="0.69"/><rect x="213.5" y="172.3" width="1.5" height="18.5" fill="#cccccc" opacity="0.51"/><rect x="233.4" y="168.2" width="1.5" height="17.9" fill="#bebebe" opacity="0.51"/><rect x="191.3" y="164.4" width="1.5" height="18.3" fill="#c2c2c2" opacity="0.60"/><rect x="196.2" y="170.7" width="1.0" height="16.9" fill="#d0d0d0" opacity="0.42"/><rect x="228.4" y="169.7" width="1.0" height="17.8" fill="#c8c8c8" opacity="0.68"/><rect x="210.9" y="163.1" width="1.5" height="16.6" fill="#c3c3c3" opacity="0.54"/><rect x="224.1" y="160.2" width="1.0" height="14.8" fill="#c7c7c7" opacity="0.66"/><rect x="200.7" y="175.1" width="1.5" height="9.1" fill="#d0d0d0" opacity="0.38"/><rect x="211.7" y="178.9" width="1.0" height="13.6" fill="#c2c2c2" opacity="0.35"/><rect x="232.4" y="176.3" width="1.5" height="10.5" fill="#d0d0d0" opacity="0.38"/><rect x="218.0" y="174.1" width="1.0" height="6.0" fill="#c5c5c5" opacity="0.41"/></g><ellipse cx="243.5" cy="178.0" rx="8.6" ry="10.0" fill="#b5b5b5" opacity="0.34" filter="url(#bl3)"/><g filter="url(#bl07)"><rect x="249.5" y="183.3" width="1.0" height="18.8" fill="#c6c6c6" opacity="0.36"/><rect x="237.3" y="167.9" width="2.0" height="15.4" fill="#d1d1d1" opacity="0.41"/><rect x="237.5" y="172.6" width="1.0" height="15.4" fill="#c9c9c9" opacity="0.43"/><rect x="244.4" y="177.3" width="1.5" height="7.0" fill="#c1c1c1" opacity="0.25"/><rect x="240.1" y="173.0" width="1.0" height="18.1" fill="#d0d0d0" opacity="0.42"/><rect x="236.3" y="177.4" width="1.5" height="12.3" fill="#d2d2d2" opacity="0.21"/><rect x="243.8" y="176.0" width="1.5" height="6.7" fill="#d2d2d2" opacity="0.20"/><rect x="236.5" y="168.9" width="1.0" height="17.4" fill="#bbbbbb" opacity="0.21"/><rect x="247.9" y="182.7" width="1.5" height="11.1" fill="#c1c1c1" opacity="0.29"/><rect x="249.5" y="172.1" width="1.0" height="8.6" fill="#c9c9c9" opacity="0.32"/><rect x="241.0" y="171.0" width="2.0" height="8.5" fill="#bfbfbf" opacity="0.23"/><rect x="239.8" y="166.5" width="1.5" height="12.2" fill="#c0c0c0" opacity="0.36"/><rect x="245.2" y="165.3" width="1.0" height="13.6" fill="#c0c0c0" opacity="0.25"/><rect x="240.5" y="169.0" width="1.0" height="9.9" fill="#cbcbcb" opacity="0.39"/><rect x="244.1" y="181.9" width="1.0" height="8.7" fill="#bcbcbc" opacity="0.33"/></g><g filter="url(#bl3)" style="mix-blend-mode:lighten"><rect x="305.0" y="128.0" width="2.6" height="138.0" fill="#9d9d9d" opacity="0.57"/><rect x="307.6" y="172.2" width="6.0" height="93.8" fill="#9d9d9d" opacity="0.42"/><rect x="313.6" y="165.1" width="6.0" height="100.9" fill="#9d9d9d" opacity="0.56"/><rect x="319.5" y="159.3" width="5.8" height="106.7" fill="#9d9d9d" opacity="0.73"/><rect x="325.3" y="156.4" width="2.2" height="109.6" fill="#9d9d9d" opacity="0.62"/><rect x="327.5" y="156.4" width="2.6" height="109.6" fill="#9d9d9d" opacity="0.66"/><rect x="330.1" y="161.1" width="2.9" height="104.9" fill="#9d9d9d" opacity="0.55"/><rect x="333.0" y="130.3" width="5.2" height="135.7" fill="#9d9d9d" opacity="0.77"/><rect x="338.3" y="170.9" width="2.9" height="95.1" fill="#9d9d9d" opacity="0.79"/><rect x="341.2" y="167.7" width="3.5" height="98.3" fill="#9d9d9d" opacity="0.60"/><rect x="344.7" y="173.0" width="5.5" height="93.0" fill="#9d9d9d" opacity="0.81"/><rect x="350.2" y="158.1" width="2.5" height="107.9" fill="#9d9d9d" opacity="0.66"/><rect x="352.7" y="169.0" width="4.1" height="97.0" fill="#9d9d9d" opacity="0.87"/><rect x="356.7" y="153.2" width="3.0" height="112.8" fill="#9d9d9d" opacity="0.55"/><rect x="359.8" y="172.9" width="5.7" height="93.1" fill="#9d9d9d" opacity="0.81"/><rect x="365.5" y="173.4" width="2.7" height="92.6" fill="#9d9d9d" opacity="0.57"/><rect x="368.2" y="172.4" width="3.9" height="93.6" fill="#9d9d9d" opacity="0.66"/><rect x="372.2" y="129.1" width="6.0" height="136.9" fill="#9d9d9d" opacity="0.68"/><rect x="378.1" y="165.1" width="4.7" height="100.9" fill="#9d9d9d" opacity="0.67"/><rect x="382.9" y="158.2" width="3.1" height="107.8" fill="#9d9d9d" opacity="0.72"/><rect x="386.0" y="159.0" width="5.8" height="107.0" fill="#9d9d9d" opacity="0.73"/><rect x="391.8" y="131.8" width="4.4" height="134.2" fill="#9d9d9d" opacity="0.43"/><rect x="396.3" y="170.4" width="5.9" height="95.6" fill="#9d9d9d" opacity="0.50"/></g><ellipse cx="352.0" cy="191.0" rx="34.4" ry="24.0" fill="#a9a9a9" opacity="0.40" filter="url(#bl6)"/><rect x="369.3" y="157.6" width="1.0" height="19.2" fill="#a4a4a4" opacity="0.52"/><rect x="344.4" y="146.2" width="2.0" height="36.4" fill="#9b9b9b" opacity="0.71"/><rect x="384.5" y="172.5" width="1.0" height="71.4" fill="#b3b3b3" opacity="0.26"/><rect x="321.7" y="175.4" width="1.0" height="71.9" fill="#a3a3a3" opacity="0.45"/><rect x="332.1" y="155.9" width="1.0" height="27.3" fill="#9e9e9e" opacity="0.65"/><rect x="353.3" y="129.1" width="1.5" height="59.3" fill="#9e9e9e" opacity="0.68"/><rect x="358.3" y="141.0" width="1.0" height="52.4" fill="#a0a0a0" opacity="0.73"/><rect x="331.8" y="133.6" width="1.0" height="65.4" fill="#a0a0a0" opacity="0.43"/><rect x="309.8" y="158.9" width="1.5" height="15.7" fill="#9f9f9f" opacity="0.41"/><rect x="351.1" y="139.8" width="1.5" height="60.7" fill="#a4a4a4" opacity="0.59"/><rect x="369.4" y="141.2" width="1.0" height="53.2" fill="#a1a1a1" opacity="0.61"/><rect x="371.5" y="198.1" width="1.0" height="30.9" fill="#b0b0b0" opacity="0.32"/><rect x="328.5" y="166.9" width="1.0" height="77.1" fill="#a6a6a6" opacity="0.46"/><rect x="362.2" y="203.3" width="1.0" height="46.7" fill="#a1a1a1" opacity="0.47"/><rect x="316.1" y="200.9" width="1.0" height="34.1" fill="#a3a3a3" opacity="0.34"/><rect x="375.7" y="190.9" width="1.0" height="35.7" fill="#aeaeae" opacity="0.23"/><rect x="385.8" y="197.4" width="1.0" height="62.9" fill="#ababab" opacity="0.42"/><rect x="364.8" y="143.8" width="1.0" height="39.5" fill="#a4a4a4" opacity="0.50"/><rect x="396.1" y="158.6" width="1.0" height="16.5" fill="#9f9f9f" opacity="0.24"/><rect x="331.1" y="154.6" width="1.0" height="40.5" fill="#9c9c9c" opacity="0.64"/><rect x="389.9" y="169.5" width="2.0" height="23.2" fill="#a2a2a2" opacity="0.29"/><rect x="331.7" y="148.6" width="1.0" height="23.7" fill="#9e9e9e" opacity="0.57"/><rect x="329.0" y="152.4" width="1.5" height="27.0" fill="#9d9d9d" opacity="0.39"/><rect x="394.2" y="167.3" width="2.0" height="33.7" fill="#9a9a9a" opacity="0.40"/><rect x="378.6" y="169.2" width="1.0" height="71.2" fill="#a9a9a9" opacity="0.33"/><rect x="363.9" y="203.0" width="1.0" height="40.5" fill="#b2b2b2" opacity="0.44"/><rect x="344.6" y="132.4" width="1.0" height="44.9" fill="#a0a0a0" opacity="0.38"/><rect x="395.1" y="189.4" width="1.0" height="73.7" fill="#a5a5a5" opacity="0.29"/><rect x="309.8" y="137.7" width="2.0" height="67.4" fill="#9a9a9a" opacity="0.23"/><rect x="389.2" y="134.1" width="2.0" height="53.1" fill="#a4a4a4" opacity="0.50"/><rect x="351.8" y="175.8" width="1.0" height="81.9" fill="#a4a4a4" opacity="0.55"/><rect x="343.6" y="150.1" width="2.0" height="29.5" fill="#9d9d9d" opacity="0.46"/><rect x="374.4" y="190.8" width="1.0" height="39.6" fill="#a4a4a4" opacity="0.45"/><rect x="396.8" y="203.0" width="1.0" height="46.7" fill="#a6a6a6" opacity="0.14"/><rect x="382.8" y="189.1" width="1.0" height="65.2" fill="#b1b1b1" opacity="0.24"/><rect x="309.1" y="145.6" width="2.0" height="32.6" fill="#9a9a9a" opacity="0.27"/><rect x="325.4" y="163.9" width="1.0" height="28.9" fill="#9e9e9e" opacity="0.42"/><rect x="386.9" y="147.4" width="2.0" height="55.1" fill="#a4a4a4" opacity="0.23"/><rect x="326.9" y="153.7" width="2.0" height="38.3" fill="#9d9d9d" opacity="0.50"/><rect x="326.8" y="187.6" width="1.0" height="77.5" fill="#a6a6a6" opacity="0.42"/><rect x="307.5" y="164.1" width="2.0" height="16.0" fill="#9a9a9a" opacity="0.26"/><rect x="397.4" y="169.5" width="1.0" height="3.6" fill="#a3a3a3" opacity="0.37"/><rect x="342.0" y="155.7" width="1.5" height="41.9" fill="#9f9f9f" opacity="0.40"/><rect x="370.9" y="150.4" width="1.0" height="55.1" fill="#a2a2a2" opacity="0.51"/><rect x="380.5" y="132.8" width="1.5" height="64.7" fill="#9f9f9f" opacity="0.42"/><rect x="321.4" y="165.5" width="1.5" height="28.7" fill="#a4a4a4" opacity="0.57"/><rect x="368.2" y="131.7" width="2.0" height="55.5" fill="#9f9f9f" opacity="0.68"/><rect x="338.4" y="169.0" width="1.0" height="65.5" fill="#adadad" opacity="0.47"/><rect x="382.2" y="142.5" width="1.0" height="41.1" fill="#9f9f9f" opacity="0.37"/><rect x="343.2" y="191.1" width="1.0" height="67.5" fill="#acacac" opacity="0.32"/><rect x="308.3" y="191.5" width="1.0" height="30.7" fill="#a3a3a3" opacity="0.14"/><rect x="311.3" y="159.7" width="1.5" height="21.5" fill="#9a9a9a" opacity="0.37"/><rect x="370.3" y="162.7" width="2.0" height="15.9" fill="#a1a1a1" opacity="0.29"/><rect x="390.4" y="177.3" width="1.0" height="66.5" fill="#a7a7a7" opacity="0.28"/><rect x="361.4" y="153.3" width="2.0" height="50.0" fill="#a4a4a4" opacity="0.37"/><rect x="322.8" y="160.4" width="1.5" height="27.2" fill="#9a9a9a" opacity="0.55"/><rect x="386.2" y="146.8" width="1.0" height="32.2" fill="#a3a3a3" opacity="0.45"/><rect x="376.5" y="203.6" width="1.0" height="18.5" fill="#a6a6a6" opacity="0.39"/><rect x="376.1" y="150.8" width="1.0" height="33.7" fill="#9d9d9d" opacity="0.61"/><rect x="362.5" y="131.0" width="1.5" height="45.3" fill="#989898" opacity="0.63"/><rect x="326.3" y="140.6" width="1.5" height="30.5" fill="#9c9c9c" opacity="0.26"/><rect x="339.5" y="135.9" width="1.0" height="41.1" fill="#a3a3a3" opacity="0.49"/><rect x="353.1" y="161.8" width="2.0" height="35.6" fill="#a1a1a1" opacity="0.53"/><rect x="344.0" y="147.9" width="1.0" height="39.5" fill="#9b9b9b" opacity="0.43"/><rect x="342.0" y="130.8" width="1.0" height="56.2" fill="#9d9d9d" opacity="0.70"/><rect x="357.2" y="142.8" width="1.0" height="61.2" fill="#9d9d9d" opacity="0.55"/><rect x="387.0" y="202.7" width="1.0" height="55.9" fill="#a1a1a1" opacity="0.24"/><rect x="395.3" y="154.8" width="1.5" height="27.0" fill="#9f9f9f" opacity="0.41"/><ellipse cx="316.5" cy="178.0" rx="6.7" ry="10.0" fill="#b5b5b5" opacity="0.28" filter="url(#bl3)"/><g filter="url(#bl07)"><rect x="311.8" y="172.5" width="1.0" height="19.9" fill="#d0d0d0" opacity="0.32"/><rect x="318.9" y="168.1" width="2.0" height="19.8" fill="#c9c9c9" opacity="0.27"/><rect x="311.6" y="164.2" width="1.0" height="15.6" fill="#c6c6c6" opacity="0.34"/><rect x="318.4" y="172.7" width="1.5" height="13.2" fill="#d3d3d3" opacity="0.34"/><rect x="317.8" y="181.3" width="1.0" height="5.2" fill="#cacaca" opacity="0.21"/><rect x="314.4" y="176.7" width="1.0" height="12.8" fill="#c2c2c2" opacity="0.32"/><rect x="319.0" y="180.2" width="1.0" height="16.4" fill="#c3c3c3" opacity="0.30"/><rect x="318.9" y="171.9" width="2.0" height="16.1" fill="#cbcbcb" opacity="0.36"/><rect x="319.9" y="161.2" width="1.0" height="18.5" fill="#c3c3c3" opacity="0.18"/><rect x="311.1" y="168.8" width="1.5" height="9.6" fill="#c5c5c5" opacity="0.29"/><rect x="315.6" y="160.5" width="1.0" height="14.8" fill="#c1c1c1" opacity="0.21"/></g><ellipse cx="355.0" cy="178.0" rx="31.9" ry="10.0" fill="#b5b5b5" opacity="0.62" filter="url(#bl6)"/><g filter="url(#bl07)"><rect x="381.7" y="173.2" width="1.0" height="7.8" fill="#c4c4c4" opacity="0.77"/><rect x="365.6" y="172.8" width="2.0" height="6.8" fill="#d2d2d2" opacity="0.49"/><rect x="323.5" y="168.4" width="1.5" height="6.8" fill="#bcbcbc" opacity="0.36"/><rect x="385.9" y="176.6" width="1.5" height="10.6" fill="#c5c5c5" opacity="0.77"/><rect x="364.2" y="172.5" width="1.0" height="5.2" fill="#c6c6c6" opacity="0.57"/><rect x="325.7" y="169.1" width="1.0" height="13.1" fill="#bebebe" opacity="0.52"/><rect x="337.4" y="169.4" width="1.5" height="7.4" fill="#cdcdcd" opacity="0.37"/><rect x="375.8" y="176.5" width="1.0" height="7.2" fill="#cacaca" opacity="0.75"/><rect x="338.5" y="168.3" width="1.0" height="15.7" fill="#cfcfcf" opacity="0.62"/><rect x="381.6" y="172.8" width="1.0" height="5.6" fill="#c1c1c1" opacity="0.43"/><rect x="351.8" y="169.6" width="1.0" height="12.8" fill="#bfbfbf" opacity="0.59"/><rect x="347.0" y="175.2" width="1.0" height="7.2" fill="#c5c5c5" opacity="0.56"/><rect x="325.5" y="170.3" width="1.0" height="10.0" fill="#c5c5c5" opacity="0.70"/><rect x="377.5" y="170.9" width="1.5" height="9.3" fill="#d2d2d2" opacity="0.41"/><rect x="347.5" y="168.8" width="1.0" height="15.6" fill="#c2c2c2" opacity="0.48"/><rect x="338.6" y="162.9" width="1.0" height="20.0" fill="#cccccc" opacity="0.77"/><rect x="334.9" y="161.3" width="1.0" height="16.5" fill="#c9c9c9" opacity="0.40"/><rect x="349.6" y="177.1" width="1.5" height="15.3" fill="#d3d3d3" opacity="0.73"/><rect x="365.0" y="175.4" width="1.0" height="11.1" fill="#bebebe" opacity="0.70"/><rect x="327.0" y="170.0" width="1.5" height="14.4" fill="#c0c0c0" opacity="0.78"/><rect x="347.9" y="168.1" width="1.0" height="17.9" fill="#c2c2c2" opacity="0.51"/><rect x="367.4" y="182.2" width="1.5" height="7.8" fill="#c0c0c0" opacity="0.60"/><rect x="344.7" y="175.7" width="1.5" height="5.0" fill="#cbcbcb" opacity="0.56"/><rect x="355.5" y="175.3" width="2.0" height="5.4" fill="#cccccc" opacity="0.45"/><rect x="353.8" y="166.6" width="2.0" height="19.0" fill="#c2c2c2" opacity="0.60"/><rect x="338.5" y="159.4" width="2.0" height="15.9" fill="#c8c8c8" opacity="0.63"/><rect x="381.6" y="166.8" width="1.0" height="6.9" fill="#cccccc" opacity="0.54"/><rect x="377.1" y="159.9" width="1.0" height="13.2" fill="#c9c9c9" opacity="0.65"/><rect x="385.0" y="177.6" width="2.0" height="5.5" fill="#cbcbcb" opacity="0.47"/><rect x="339.4" y="173.0" width="1.5" height="11.8" fill="#d2d2d2" opacity="0.38"/><rect x="364.5" y="168.6" width="1.0" height="13.8" fill="#bfbfbf" opacity="0.51"/><rect x="329.0" y="170.6" width="1.5" height="15.5" fill="#d1d1d1" opacity="0.52"/><rect x="364.6" y="166.7" width="1.0" height="14.6" fill="#d0d0d0" opacity="0.65"/><rect x="385.4" y="177.5" width="1.5" height="9.3" fill="#cacaca" opacity="0.56"/><rect x="323.7" y="166.7" width="1.0" height="14.0" fill="#c7c7c7" opacity="0.38"/><rect x="331.4" y="171.6" width="1.0" height="14.1" fill="#d3d3d3" opacity="0.71"/><rect x="341.6" y="163.2" width="2.0" height="17.1" fill="#d2d2d2" opacity="0.66"/><rect x="382.5" y="172.2" width="1.5" height="15.2" fill="#bdbdbd" opacity="0.40"/><rect x="367.9" y="154.6" width="2.0" height="19.3" fill="#bfbfbf" opacity="0.54"/><rect x="361.5" y="166.8" width="2.0" height="16.5" fill="#cbcbcb" opacity="0.49"/><rect x="347.6" y="183.0" width="1.0" height="5.0" fill="#c7c7c7" opacity="0.41"/><rect x="331.7" y="164.1" width="1.0" height="18.4" fill="#c9c9c9" opacity="0.42"/><rect x="344.3" y="179.7" width="1.0" height="9.2" fill="#c3c3c3" opacity="0.41"/><rect x="372.9" y="188.8" width="1.0" height="6.6" fill="#d3d3d3" opacity="0.50"/><rect x="348.7" y="177.5" width="1.0" height="17.4" fill="#c7c7c7" opacity="0.49"/><rect x="381.7" y="169.5" width="1.0" height="8.1" fill="#c5c5c5" opacity="0.42"/><rect x="352.3" y="173.2" width="1.0" height="11.3" fill="#cfcfcf" opacity="0.46"/><rect x="377.0" y="173.4" width="1.5" height="12.7" fill="#c1c1c1" opacity="0.60"/><rect x="343.3" y="174.3" width="1.5" height="16.4" fill="#cbcbcb" opacity="0.74"/><rect x="383.0" y="181.7" width="1.0" height="8.4" fill="#bebebe" opacity="0.39"/><rect x="333.9" y="173.6" width="1.5" height="14.7" fill="#c0c0c0" opacity="0.38"/><rect x="337.4" y="165.2" width="1.0" height="14.1" fill="#bebebe" opacity="0.67"/><rect x="361.3" y="163.8" width="2.0" height="14.1" fill="#c5c5c5" opacity="0.64"/><rect x="347.0" y="166.3" width="1.5" height="11.2" fill="#bebebe" opacity="0.46"/><rect x="352.8" y="166.3" width="1.0" height="15.3" fill="#cfcfcf" opacity="0.52"/><rect x="364.1" y="172.0" width="1.5" height="8.8" fill="#c9c9c9" opacity="0.79"/><rect x="334.1" y="177.0" width="1.0" height="14.5" fill="#d3d3d3" opacity="0.59"/><rect x="363.3" y="167.6" width="2.0" height="13.0" fill="#c1c1c1" opacity="0.74"/><rect x="345.6" y="169.7" width="2.0" height="9.4" fill="#cfcfcf" opacity="0.49"/></g><g filter="url(#bl3)" style="mix-blend-mode:lighten"><rect x="461.0" y="167.6" width="3.9" height="98.4" fill="#9d9d9d" opacity="0.67"/><rect x="464.9" y="163.3" width="4.0" height="102.7" fill="#9d9d9d" opacity="0.45"/><rect x="468.9" y="172.7" width="5.0" height="93.3" fill="#9d9d9d" opacity="0.64"/><rect x="473.9" y="164.7" width="4.0" height="101.3" fill="#9d9d9d" opacity="0.70"/><rect x="477.9" y="158.7" width="3.0" height="107.3" fill="#9d9d9d" opacity="0.88"/><rect x="480.9" y="157.3" width="4.7" height="108.7" fill="#9d9d9d" opacity="0.86"/><rect x="485.6" y="167.5" width="2.7" height="98.5" fill="#9d9d9d" opacity="0.70"/><rect x="488.3" y="158.9" width="4.5" height="107.1" fill="#9d9d9d" opacity="0.77"/><rect x="492.8" y="153.2" width="3.2" height="112.8" fill="#9d9d9d" opacity="0.67"/><rect x="496.0" y="158.0" width="2.5" height="108.0" fill="#9d9d9d" opacity="0.90"/><rect x="498.5" y="168.8" width="5.5" height="97.2" fill="#9d9d9d" opacity="1.00"/><rect x="504.0" y="169.2" width="4.4" height="96.8" fill="#9d9d9d" opacity="0.87"/><rect x="508.4" y="168.1" width="5.3" height="97.9" fill="#9d9d9d" opacity="1.00"/><rect x="513.7" y="155.3" width="5.1" height="110.7" fill="#9d9d9d" opacity="0.70"/><rect x="518.8" y="168.3" width="4.3" height="97.7" fill="#9d9d9d" opacity="0.64"/><rect x="523.1" y="165.4" width="3.3" height="100.6" fill="#9d9d9d" opacity="0.71"/><rect x="526.4" y="162.5" width="5.6" height="103.5" fill="#9d9d9d" opacity="0.78"/><rect x="532.1" y="177.8" width="4.7" height="88.2" fill="#9d9d9d" opacity="0.58"/><rect x="536.7" y="127.8" width="4.6" height="138.2" fill="#9d9d9d" opacity="0.57"/></g><ellipse cx="500.0" cy="191.0" rx="28.0" ry="24.0" fill="#a9a9a9" opacity="0.48" filter="url(#bl6)"/><rect x="503.6" y="150.0" width="2.0" height="39.9" fill="#979797" opacity="0.89"/><rect x="525.5" y="136.2" width="2.0" height="63.7" fill="#9a9a9a" opacity="0.58"/><rect x="524.2" y="174.3" width="1.0" height="52.1" fill="#a3a3a3" opacity="0.31"/><rect x="530.4" y="185.0" width="1.0" height="41.8" fill="#a6a6a6" opacity="0.27"/><rect x="511.3" y="197.0" width="1.0" height="43.6" fill="#a8a8a8" opacity="0.47"/><rect x="490.1" y="154.4" width="1.5" height="41.5" fill="#a5a5a5" opacity="0.71"/><rect x="473.7" y="151.4" width="1.0" height="52.1" fill="#a4a4a4" opacity="0.54"/><rect x="479.1" y="132.0" width="1.0" height="46.8" fill="#9c9c9c" opacity="0.36"/><rect x="506.9" y="181.3" width="1.0" height="47.7" fill="#a1a1a1" opacity="0.30"/><rect x="520.2" y="155.8" width="1.0" height="42.9" fill="#9a9a9a" opacity="0.48"/><rect x="497.7" y="160.1" width="2.0" height="12.4" fill="#9c9c9c" opacity="0.61"/><rect x="522.3" y="159.3" width="1.5" height="43.9" fill="#a5a5a5" opacity="0.71"/><rect x="475.0" y="174.0" width="1.0" height="83.2" fill="#a2a2a2" opacity="0.33"/><rect x="495.6" y="193.2" width="1.0" height="36.9" fill="#b1b1b1" opacity="0.66"/><rect x="500.8" y="139.6" width="2.0" height="41.7" fill="#9d9d9d" opacity="0.40"/><rect x="527.1" y="146.1" width="1.5" height="39.0" fill="#9e9e9e" opacity="0.46"/><rect x="520.9" y="139.0" width="1.5" height="42.2" fill="#9d9d9d" opacity="0.51"/><rect x="465.4" y="163.4" width="1.0" height="10.9" fill="#989898" opacity="0.43"/><rect x="473.9" y="160.2" width="1.0" height="31.6" fill="#9c9c9c" opacity="0.45"/><rect x="501.9" y="132.8" width="2.0" height="65.7" fill="#999999" opacity="0.57"/><rect x="482.5" y="164.8" width="1.0" height="30.6" fill="#a1a1a1" opacity="0.54"/><rect x="502.5" y="148.4" width="1.0" height="51.2" fill="#a3a3a3" opacity="0.80"/><rect x="502.8" y="161.9" width="1.0" height="30.1" fill="#9d9d9d" opacity="0.87"/><rect x="474.5" y="135.6" width="2.0" height="61.7" fill="#999999" opacity="0.53"/><rect x="524.3" y="142.0" width="2.0" height="60.3" fill="#a4a4a4" opacity="0.61"/><rect x="482.9" y="155.2" width="1.0" height="41.4" fill="#a0a0a0" opacity="0.66"/><rect x="467.9" y="142.0" width="2.0" height="34.9" fill="#a4a4a4" opacity="0.26"/><rect x="495.9" y="153.9" width="1.5" height="21.0" fill="#9d9d9d" opacity="0.63"/><rect x="501.9" y="140.5" width="1.0" height="31.1" fill="#a1a1a1" opacity="0.47"/><rect x="531.4" y="158.5" width="1.5" height="35.4" fill="#9c9c9c" opacity="0.24"/><rect x="468.9" y="159.4" width="1.0" height="41.0" fill="#a1a1a1" opacity="0.27"/><rect x="471.0" y="163.9" width="2.0" height="26.3" fill="#a5a5a5" opacity="0.61"/><rect x="516.5" y="156.6" width="1.5" height="41.2" fill="#a5a5a5" opacity="0.62"/><rect x="515.2" y="171.5" width="1.0" height="61.1" fill="#b2b2b2" opacity="0.34"/><rect x="518.6" y="130.4" width="2.0" height="65.2" fill="#a3a3a3" opacity="0.70"/><rect x="505.1" y="156.1" width="1.0" height="44.2" fill="#989898" opacity="0.39"/><rect x="517.5" y="162.1" width="2.0" height="43.6" fill="#a3a3a3" opacity="0.41"/><rect x="486.1" y="131.2" width="2.0" height="74.3" fill="#a1a1a1" opacity="0.74"/><rect x="497.1" y="145.7" width="1.0" height="49.1" fill="#9a9a9a" opacity="0.89"/><rect x="531.9" y="171.5" width="1.0" height="93.1" fill="#b0b0b0" opacity="0.34"/><rect x="472.2" y="192.8" width="1.0" height="60.0" fill="#a3a3a3" opacity="0.31"/><rect x="475.3" y="153.7" width="1.0" height="29.5" fill="#a3a3a3" opacity="0.51"/><rect x="466.0" y="151.6" width="2.0" height="22.0" fill="#9e9e9e" opacity="0.21"/><rect x="508.7" y="160.9" width="1.5" height="31.5" fill="#989898" opacity="0.69"/><rect x="486.6" y="146.9" width="1.0" height="31.0" fill="#a2a2a2" opacity="0.84"/><rect x="497.1" y="181.9" width="1.0" height="39.6" fill="#a6a6a6" opacity="0.45"/><rect x="537.4" y="144.3" width="1.0" height="50.9" fill="#9f9f9f" opacity="0.42"/><rect x="518.5" y="147.9" width="1.0" height="35.6" fill="#9c9c9c" opacity="0.78"/><rect x="476.9" y="137.9" width="1.5" height="33.6" fill="#9d9d9d" opacity="0.59"/><rect x="487.8" y="190.5" width="1.0" height="61.9" fill="#a7a7a7" opacity="0.45"/><rect x="529.9" y="197.0" width="1.0" height="60.1" fill="#b3b3b3" opacity="0.24"/><rect x="485.6" y="141.8" width="1.0" height="37.8" fill="#a3a3a3" opacity="0.83"/><rect x="520.9" y="150.0" width="2.0" height="42.9" fill="#999999" opacity="0.74"/><rect x="500.8" y="165.3" width="1.0" height="19.2" fill="#a2a2a2" opacity="0.37"/><rect x="469.2" y="149.1" width="1.0" height="36.9" fill="#a4a4a4" opacity="0.56"/><rect x="481.2" y="169.6" width="1.0" height="77.6" fill="#a1a1a1" opacity="0.30"/><ellipse cx="453.5" cy="178.0" rx="7.7" ry="10.0" fill="#b5b5b5" opacity="0.25" filter="url(#bl3)"/><g filter="url(#bl07)"><rect x="459.3" y="175.2" width="1.0" height="6.9" fill="#cfcfcf" opacity="0.16"/><rect x="458.0" y="170.2" width="2.0" height="17.9" fill="#bcbcbc" opacity="0.27"/><rect x="447.5" y="162.7" width="2.0" height="12.9" fill="#cbcbcb" opacity="0.16"/><rect x="456.4" y="168.2" width="1.0" height="16.6" fill="#c5c5c5" opacity="0.23"/><rect x="450.6" y="168.7" width="1.5" height="9.3" fill="#c4c4c4" opacity="0.28"/><rect x="451.8" y="168.4" width="2.0" height="19.5" fill="#bdbdbd" opacity="0.17"/><rect x="447.6" y="171.2" width="2.0" height="14.2" fill="#d2d2d2" opacity="0.19"/><rect x="450.0" y="175.8" width="2.0" height="5.4" fill="#c9c9c9" opacity="0.21"/><rect x="454.1" y="171.9" width="1.5" height="18.2" fill="#cfcfcf" opacity="0.24"/><rect x="448.3" y="176.4" width="1.0" height="18.1" fill="#c1c1c1" opacity="0.16"/><rect x="451.2" y="170.5" width="1.0" height="17.8" fill="#c1c1c1" opacity="0.17"/><rect x="459.6" y="182.2" width="1.0" height="13.1" fill="#cfcfcf" opacity="0.29"/><rect x="449.8" y="167.9" width="1.0" height="7.6" fill="#bbbbbb" opacity="0.31"/></g><ellipse cx="476.0" cy="178.0" rx="4.3" ry="10.0" fill="#b5b5b5" opacity="0.37" filter="url(#bl3)"/><g filter="url(#bl07)"><rect x="478.2" y="169.5" width="1.0" height="19.2" fill="#cacaca" opacity="0.39"/><rect x="473.6" y="170.2" width="1.0" height="13.0" fill="#bebebe" opacity="0.24"/><rect x="477.4" y="168.5" width="1.5" height="13.6" fill="#bbbbbb" opacity="0.36"/><rect x="476.2" y="171.2" width="1.0" height="15.7" fill="#cccccc" opacity="0.27"/><rect x="474.2" y="166.9" width="1.0" height="13.3" fill="#c7c7c7" opacity="0.30"/><rect x="478.2" y="172.0" width="1.0" height="12.9" fill="#d2d2d2" opacity="0.44"/><rect x="478.3" y="162.0" width="2.0" height="7.6" fill="#d2d2d2" opacity="0.27"/></g><ellipse cx="488.0" cy="173.8" rx="10.0" ry="15.4" fill="#b5b5b5" opacity="0.81" filter="url(#bl6)"/><g filter="url(#bl07)"><rect x="479.1" y="185.6" width="1.0" height="7.8" fill="#c4c4c4" opacity="0.95"/><rect x="494.0" y="152.7" width="1.5" height="5.3" fill="#bebebe" opacity="0.80"/><rect x="490.6" y="173.1" width="1.0" height="22.8" fill="#c9c9c9" opacity="0.72"/><rect x="486.2" y="157.6" width="2.0" height="8.5" fill="#d0d0d0" opacity="0.56"/><rect x="487.9" y="161.6" width="1.0" height="21.2" fill="#c3c3c3" opacity="0.57"/><rect x="487.0" y="161.0" width="1.5" height="8.0" fill="#c6c6c6" opacity="0.96"/><rect x="496.4" y="165.2" width="1.5" height="21.8" fill="#c2c2c2" opacity="0.78"/><rect x="496.8" y="172.9" width="1.0" height="18.8" fill="#c4c4c4"/><rect x="492.6" y="158.8" width="1.0" height="15.7" fill="#cdcdcd" opacity="0.95"/><rect x="487.2" y="159.9" width="2.0" height="22.5" fill="#cfcfcf" opacity="0.85"/><rect x="492.0" y="170.8" width="1.0" height="8.0" fill="#cbcbcb" opacity="0.52"/><rect x="480.9" y="169.3" width="1.0" height="14.9" fill="#cfcfcf" opacity="0.99"/><rect x="490.1" y="162.4" width="1.0" height="26.0" fill="#bcbcbc" opacity="0.66"/><rect x="480.7" y="170.5" width="1.0" height="6.5" fill="#bcbcbc" opacity="0.78"/><rect x="486.4" y="156.4" width="1.0" height="25.7" fill="#c6c6c6" opacity="0.58"/><rect x="486.4" y="180.2" width="1.0" height="13.9" fill="#c4c4c4" opacity="0.66"/><rect x="482.3" y="177.9" width="1.5" height="9.4" fill="#cdcdcd" opacity="0.78"/><rect x="483.7" y="166.9" width="1.0" height="23.0" fill="#d1d1d1" opacity="0.66"/></g><ellipse cx="506.0" cy="171.7" rx="7.2" ry="18.1" fill="#b5b5b5" opacity="0.62" filter="url(#bl3)"/><g filter="url(#bl07)"><rect x="511.4" y="177.3" width="1.5" height="20.0" fill="#cecece" opacity="0.37"/><rect x="508.8" y="167.8" width="1.0" height="11.4" fill="#bebebe" opacity="0.70"/><rect x="501.7" y="146.4" width="1.5" height="24.5" fill="#c0c0c0" opacity="0.75"/><rect x="500.0" y="155.8" width="1.0" height="9.5" fill="#cacaca" opacity="0.61"/><rect x="503.9" y="152.7" width="1.5" height="14.8" fill="#c1c1c1" opacity="0.64"/><rect x="510.4" y="167.5" width="1.5" height="5.7" fill="#bebebe" opacity="0.41"/><rect x="509.7" y="158.4" width="1.0" height="12.6" fill="#cbcbcb" opacity="0.60"/><rect x="506.6" y="164.0" width="1.0" height="16.3" fill="#d2d2d2" opacity="0.48"/><rect x="506.9" y="167.6" width="2.0" height="18.4" fill="#c7c7c7" opacity="0.78"/><rect x="507.3" y="153.3" width="1.0" height="26.3" fill="#c0c0c0" opacity="0.39"/><rect x="506.3" y="152.8" width="2.0" height="9.4" fill="#c7c7c7" opacity="0.41"/><rect x="506.1" y="153.6" width="1.0" height="12.1" fill="#c9c9c9" opacity="0.79"/></g><ellipse cx="521.0" cy="178.0" rx="7.2" ry="10.0" fill="#b5b5b5" opacity="0.43" filter="url(#bl3)"/><g filter="url(#bl07)"><rect x="522.4" y="170.3" width="1.0" height="13.2" fill="#c2c2c2" opacity="0.36"/><rect x="520.2" y="173.3" width="1.0" height="7.8" fill="#d3d3d3" opacity="0.40"/><rect x="526.9" y="162.1" width="2.0" height="14.3" fill="#c6c6c6" opacity="0.28"/><rect x="518.8" y="174.0" width="2.0" height="8.4" fill="#d3d3d3" opacity="0.40"/><rect x="525.1" y="159.7" width="1.5" height="15.1" fill="#cbcbcb" opacity="0.42"/><rect x="516.1" y="168.4" width="2.0" height="11.4" fill="#cdcdcd" opacity="0.37"/><rect x="522.4" y="165.6" width="1.0" height="9.5" fill="#d1d1d1" opacity="0.30"/><rect x="523.5" y="171.2" width="1.0" height="20.0" fill="#cbcbcb" opacity="0.39"/><rect x="521.6" y="179.8" width="2.0" height="8.0" fill="#bdbdbd" opacity="0.49"/><rect x="526.7" y="176.6" width="1.0" height="9.3" fill="#cacaca" opacity="0.55"/><rect x="524.8" y="171.3" width="2.0" height="5.1" fill="#c3c3c3" opacity="0.55"/><rect x="522.2" y="168.1" width="1.0" height="18.0" fill="#d1d1d1" opacity="0.32"/></g><g filter="url(#bl3)" style="mix-blend-mode:lighten"><rect x="564.0" y="173.9" width="3.4" height="92.1" fill="#9d9d9d" opacity="0.39"/><rect x="567.4" y="170.7" width="2.9" height="95.3" fill="#9d9d9d" opacity="0.45"/><rect x="570.3" y="176.1" width="4.6" height="89.9" fill="#9d9d9d" opacity="0.40"/><rect x="574.9" y="175.4" width="4.5" height="90.6" fill="#9d9d9d" opacity="0.48"/><rect x="579.3" y="180.6" width="3.7" height="85.4" fill="#9d9d9d" opacity="0.69"/><rect x="583.1" y="171.4" width="4.4" height="94.6" fill="#9d9d9d" opacity="0.73"/><rect x="587.5" y="165.7" width="3.6" height="100.3" fill="#9d9d9d" opacity="0.73"/><rect x="591.1" y="160.7" width="3.7" height="105.3" fill="#9d9d9d" opacity="0.52"/><rect x="594.8" y="157.3" width="3.4" height="108.7" fill="#9d9d9d" opacity="0.76"/><rect x="598.2" y="175.2" width="5.6" height="90.8" fill="#9d9d9d" opacity="0.80"/><rect x="603.9" y="163.0" width="2.4" height="103.0" fill="#9d9d9d" opacity="0.61"/><rect x="606.3" y="161.1" width="4.7" height="104.9" fill="#9d9d9d" opacity="0.80"/><rect x="611.0" y="168.0" width="4.5" height="98.0" fill="#9d9d9d" opacity="0.55"/><rect x="615.5" y="164.7" width="2.1" height="101.3" fill="#9d9d9d" opacity="0.65"/><rect x="617.6" y="160.4" width="4.9" height="105.6" fill="#9d9d9d" opacity="0.60"/><rect x="622.5" y="167.6" width="2.6" height="98.4" fill="#9d9d9d" opacity="0.61"/><rect x="625.1" y="131.6" width="2.2" height="134.4" fill="#9d9d9d" opacity="0.67"/><rect x="627.4" y="151.2" width="2.4" height="114.8" fill="#9d9d9d" opacity="0.62"/><rect x="629.8" y="151.7" width="5.5" height="114.3" fill="#9d9d9d" opacity="0.71"/><rect x="635.3" y="165.0" width="2.8" height="101.0" fill="#9d9d9d" opacity="0.80"/><rect x="638.1" y="170.2" width="6.0" height="95.8" fill="#9d9d9d" opacity="0.53"/><rect x="644.1" y="171.6" width="2.1" height="94.4" fill="#9d9d9d" opacity="0.73"/><rect x="646.2" y="162.4" width="3.3" height="103.6" fill="#9d9d9d" opacity="0.71"/><rect x="649.5" y="168.4" width="2.9" height="97.6" fill="#9d9d9d" opacity="0.77"/><rect x="652.4" y="138.4" width="3.7" height="127.6" fill="#9d9d9d" opacity="0.80"/><rect x="656.1" y="158.7" width="2.3" height="107.3" fill="#9d9d9d" opacity="0.57"/><rect x="658.5" y="162.4" width="2.0" height="103.6" fill="#9d9d9d" opacity="0.73"/><rect x="660.5" y="140.8" width="4.7" height="125.2" fill="#9d9d9d" opacity="0.56"/><rect x="665.2" y="172.8" width="3.6" height="93.2" fill="#9d9d9d" opacity="0.58"/><rect x="668.8" y="175.2" width="2.3" height="90.8" fill="#9d9d9d" opacity="0.50"/><rect x="671.1" y="174.8" width="3.4" height="91.2" fill="#9d9d9d" opacity="0.68"/><rect x="674.5" y="171.3" width="3.8" height="94.7" fill="#9d9d9d" opacity="0.41"/><rect x="678.4" y="171.2" width="3.3" height="94.8" fill="#9d9d9d" opacity="0.54"/><rect x="681.6" y="169.0" width="4.1" height="97.0" fill="#9d9d9d" opacity="0.50"/><rect x="685.7" y="179.1" width="4.4" height="86.9" fill="#9d9d9d" opacity="0.50"/><rect x="690.1" y="170.8" width="2.3" height="95.2" fill="#9d9d9d" opacity="0.56"/></g><ellipse cx="627.5" cy="191.0" rx="47.6" ry="24.0" fill="#a9a9a9" opacity="0.38" filter="url(#bl6)"/><rect x="614.4" y="196.0" width="1.0" height="31.2" fill="#aaaaaa" opacity="0.33"/><rect x="656.0" y="185.8" width="1.0" height="42.9" fill="#aaaaaa" opacity="0.35"/><rect x="621.4" y="148.5" width="2.0" height="50.8" fill="#9e9e9e" opacity="0.62"/><rect x="640.5" y="136.9" width="1.0" height="36.5" fill="#9b9b9b" opacity="0.61"/><rect x="626.8" y="153.3" width="2.0" height="38.0" fill="#9d9d9d" opacity="0.64"/><rect x="631.4" y="205.4" width="1.0" height="52.8" fill="#afafaf" opacity="0.47"/><rect x="634.0" y="133.6" width="1.0" height="60.5" fill="#a0a0a0" opacity="0.35"/><rect x="619.6" y="163.2" width="1.0" height="13.8" fill="#a4a4a4" opacity="0.42"/><rect x="604.2" y="146.6" width="1.0" height="46.5" fill="#a2a2a2" opacity="0.59"/><rect x="655.7" y="183.9" width="1.0" height="57.2" fill="#acacac" opacity="0.31"/><rect x="668.7" y="153.4" width="1.5" height="35.8" fill="#9b9b9b" opacity="0.50"/><rect x="646.6" y="159.5" width="1.0" height="14.1" fill="#a2a2a2" opacity="0.39"/><rect x="567.4" y="168.7" width="1.0" height="65.7" fill="#b2b2b2" opacity="0.25"/><rect x="668.0" y="173.1" width="1.0" height="70.6" fill="#a1a1a1" opacity="0.29"/><rect x="627.0" y="177.6" width="1.0" height="73.4" fill="#a2a2a2" opacity="0.32"/><rect x="572.3" y="157.0" width="2.0" height="39.0" fill="#9e9e9e" opacity="0.27"/><rect x="573.6" y="169.9" width="1.0" height="19.4" fill="#a0a0a0" opacity="0.44"/><rect x="649.9" y="165.6" width="1.0" height="21.8" fill="#a4a4a4" opacity="0.47"/><rect x="581.9" y="143.4" width="1.0" height="47.9" fill="#9e9e9e" opacity="0.32"/><rect x="637.6" y="139.3" width="1.0" height="35.8" fill="#a0a0a0" opacity="0.47"/><rect x="652.8" y="171.6" width="1.0" height="66.3" fill="#a6a6a6" opacity="0.43"/><rect x="688.8" y="194.4" width="1.0" height="35.4" fill="#a8a8a8" opacity="0.20"/><rect x="576.1" y="145.7" width="1.0" height="38.2" fill="#9c9c9c" opacity="0.29"/><rect x="585.1" y="136.5" width="1.5" height="62.4" fill="#9b9b9b" opacity="0.28"/><rect x="680.4" y="138.7" width="1.5" height="49.7" fill="#a4a4a4" opacity="0.44"/><rect x="616.6" y="132.5" width="1.5" height="51.2" fill="#9d9d9d" opacity="0.43"/><rect x="686.1" y="165.4" width="1.0" height="6.0" fill="#a0a0a0" opacity="0.20"/><rect x="648.3" y="153.4" width="2.0" height="32.1" fill="#9b9b9b" opacity="0.48"/><rect x="671.6" y="145.2" width="1.0" height="27.9" fill="#a3a3a3" opacity="0.42"/><rect x="662.5" y="194.5" width="1.0" height="64.5" fill="#acacac" opacity="0.38"/><rect x="612.1" y="145.7" width="1.5" height="49.6" fill="#989898" opacity="0.49"/><rect x="659.7" y="135.1" width="1.0" height="61.4" fill="#9f9f9f" opacity="0.50"/><rect x="585.0" y="152.1" width="1.5" height="43.0" fill="#9d9d9d" opacity="0.23"/><rect x="667.6" y="163.3" width="2.0" height="11.4" fill="#9f9f9f" opacity="0.52"/><rect x="653.9" y="162.3" width="2.0" height="17.9" fill="#9f9f9f" opacity="0.55"/><rect x="640.2" y="136.4" width="2.0" height="57.1" fill="#a5a5a5" opacity="0.50"/><rect x="566.0" y="165.6" width="1.5" height="19.0" fill="#9b9b9b" opacity="0.34"/><rect x="630.1" y="144.3" width="1.0" height="26.8" fill="#a1a1a1" opacity="0.45"/><rect x="662.7" y="168.9" width="1.0" height="3.8" fill="#9f9f9f" opacity="0.53"/><rect x="643.4" y="163.6" width="1.0" height="23.1" fill="#a3a3a3" opacity="0.48"/><rect x="594.1" y="194.2" width="1.0" height="60.2" fill="#acacac" opacity="0.48"/><rect x="686.2" y="179.2" width="1.0" height="64.9" fill="#aaaaaa" opacity="0.27"/><rect x="612.6" y="184.0" width="1.0" height="68.0" fill="#a3a3a3" opacity="0.52"/><rect x="652.6" y="133.9" width="2.0" height="58.6" fill="#999999" opacity="0.52"/><rect x="681.2" y="153.1" width="2.0" height="35.8" fill="#a4a4a4" opacity="0.27"/><rect x="679.0" y="170.0" width="2.0" height="30.6" fill="#a0a0a0" opacity="0.24"/><rect x="684.0" y="154.3" width="1.0" height="32.8" fill="#9e9e9e" opacity="0.29"/><rect x="673.9" y="167.1" width="1.0" height="6.0" fill="#9b9b9b" opacity="0.50"/><rect x="617.9" y="164.2" width="2.0" height="29.5" fill="#a5a5a5" opacity="0.58"/><rect x="665.9" y="177.3" width="1.0" height="47.5" fill="#adadad" opacity="0.21"/><rect x="587.9" y="133.9" width="1.0" height="61.0" fill="#a0a0a0" opacity="0.25"/><rect x="610.6" y="170.4" width="1.0" height="52.3" fill="#a8a8a8" opacity="0.50"/><rect x="643.7" y="133.3" width="2.0" height="67.0" fill="#a1a1a1" opacity="0.36"/><rect x="658.8" y="137.9" width="1.0" height="44.3" fill="#a2a2a2" opacity="0.39"/><rect x="592.9" y="137.8" width="1.0" height="49.2" fill="#a5a5a5" opacity="0.57"/><rect x="635.8" y="157.3" width="2.0" height="36.5" fill="#9e9e9e" opacity="0.70"/><rect x="622.7" y="153.4" width="2.0" height="45.2" fill="#a5a5a5" opacity="0.40"/><rect x="677.1" y="179.8" width="1.0" height="42.4" fill="#ababab" opacity="0.31"/><rect x="685.0" y="162.5" width="1.0" height="35.1" fill="#a5a5a5" opacity="0.34"/><rect x="684.6" y="204.8" width="1.0" height="57.3" fill="#a5a5a5" opacity="0.16"/><rect x="683.4" y="192.7" width="1.0" height="70.2" fill="#a2a2a2" opacity="0.31"/><rect x="646.0" y="167.0" width="1.0" height="75.5" fill="#b1b1b1" opacity="0.43"/><rect x="609.9" y="138.2" width="1.0" height="55.4" fill="#9e9e9e" opacity="0.45"/><rect x="575.8" y="155.2" width="1.5" height="35.8" fill="#9d9d9d" opacity="0.35"/><rect x="649.3" y="153.1" width="1.0" height="27.0" fill="#a5a5a5" opacity="0.47"/><rect x="612.1" y="152.8" width="1.5" height="44.9" fill="#a2a2a2" opacity="0.43"/><rect x="598.3" y="136.0" width="1.0" height="41.2" fill="#a1a1a1" opacity="0.62"/><rect x="660.1" y="163.0" width="1.5" height="25.2" fill="#9c9c9c" opacity="0.27"/><rect x="578.9" y="177.9" width="1.0" height="43.4" fill="#b3b3b3" opacity="0.25"/><rect x="661.8" y="167.7" width="2.0" height="6.1" fill="#989898" opacity="0.35"/><rect x="683.8" y="169.8" width="1.0" height="79.0" fill="#acacac" opacity="0.29"/><rect x="623.2" y="153.1" width="1.5" height="44.9" fill="#999999" opacity="0.62"/><rect x="628.4" y="191.4" width="1.0" height="55.1" fill="#a3a3a3" opacity="0.28"/><rect x="575.2" y="145.4" width="1.0" height="59.0" fill="#9d9d9d" opacity="0.22"/><rect x="574.0" y="150.5" width="1.0" height="28.8" fill="#9d9d9d" opacity="0.28"/><rect x="582.6" y="180.9" width="1.0" height="67.2" fill="#b0b0b0" opacity="0.20"/><rect x="617.9" y="164.4" width="1.0" height="28.3" fill="#9d9d9d" opacity="0.34"/><rect x="656.7" y="143.0" width="1.0" height="42.0" fill="#9e9e9e" opacity="0.55"/><rect x="614.1" y="185.3" width="1.0" height="62.6" fill="#a2a2a2" opacity="0.36"/><rect x="685.1" y="159.6" width="2.0" height="26.5" fill="#a5a5a5" opacity="0.32"/><rect x="587.7" y="150.5" width="1.5" height="52.6" fill="#a0a0a0" opacity="0.28"/><rect x="592.4" y="140.8" width="1.0" height="31.1" fill="#a4a4a4" opacity="0.53"/><rect x="671.9" y="144.8" width="1.5" height="47.2" fill="#9f9f9f" opacity="0.29"/><rect x="594.8" y="133.8" width="1.0" height="57.5" fill="#a0a0a0" opacity="0.30"/><rect x="599.9" y="149.8" width="2.0" height="41.8" fill="#9d9d9d" opacity="0.40"/><rect x="603.6" y="139.8" width="2.0" height="31.8" fill="#a0a0a0" opacity="0.39"/><rect x="656.6" y="138.7" width="2.0" height="67.2" fill="#9c9c9c" opacity="0.54"/><rect x="662.2" y="159.3" width="1.0" height="24.0" fill="#a3a3a3" opacity="0.40"/><rect x="601.5" y="148.7" width="1.0" height="50.2" fill="#a0a0a0" opacity="0.62"/><rect x="655.7" y="195.6" width="1.0" height="56.4" fill="#b2b2b2" opacity="0.39"/><rect x="647.6" y="150.2" width="1.5" height="53.7" fill="#9b9b9b" opacity="0.30"/><rect x="637.2" y="143.5" width="1.5" height="44.9" fill="#9a9a9a" opacity="0.54"/><rect x="614.5" y="184.8" width="1.0" height="41.2" fill="#adadad" opacity="0.55"/><rect x="576.5" y="157.2" width="1.5" height="35.3" fill="#a5a5a5" opacity="0.44"/><rect x="619.3" y="192.7" width="1.0" height="64.5" fill="#b3b3b3" opacity="0.26"/><ellipse cx="575.0" cy="178.0" rx="4.3" ry="10.0" fill="#b5b5b5" opacity="0.37" filter="url(#bl3)"/><g filter="url(#bl07)"><rect x="573.3" y="180.6" width="1.0" height="8.5" fill="#c9c9c9" opacity="0.45"/><rect x="573.0" y="172.6" width="1.0" height="14.8" fill="#bdbdbd" opacity="0.23"/><rect x="572.8" y="186.3" width="2.0" height="5.4" fill="#c2c2c2" opacity="0.29"/><rect x="577.4" y="178.7" width="1.5" height="6.4" fill="#cdcdcd" opacity="0.47"/><rect x="576.4" y="158.8" width="1.0" height="9.2" fill="#d2d2d2" opacity="0.29"/><rect x="576.1" y="171.0" width="2.0" height="5.9" fill="#cccccc" opacity="0.43"/><rect x="572.7" y="168.2" width="1.5" height="12.7" fill="#c4c4c4" opacity="0.35"/></g><ellipse cx="594.5" cy="178.0" rx="5.8" ry="10.0" fill="#b5b5b5" opacity="0.43" filter="url(#bl3)"/><g filter="url(#bl07)"><rect x="597.3" y="180.7" width="1.5" height="16.6" fill="#bfbfbf" opacity="0.53"/><rect x="594.6" y="173.3" width="1.0" height="12.6" fill="#c8c8c8" opacity="0.56"/><rect x="590.3" y="171.8" width="1.0" height="13.1" fill="#bdbdbd" opacity="0.35"/><rect x="596.2" y="173.5" width="1.0" height="18.2" fill="#c3c3c3" opacity="0.38"/><rect x="593.0" y="171.7" width="1.0" height="14.7" fill="#c8c8c8" opacity="0.47"/><rect x="591.7" y="171.8" width="1.0" height="16.3" fill="#d2d2d2" opacity="0.29"/><rect x="593.9" y="179.9" width="1.5" height="8.4" fill="#cbcbcb" opacity="0.38"/><rect x="595.2" y="178.2" width="1.0" height="6.7" fill="#c8c8c8" opacity="0.26"/><rect x="596.9" y="170.3" width="1.0" height="14.3" fill="#bdbdbd" opacity="0.41"/><rect x="590.5" y="166.1" width="2.0" height="18.5" fill="#cbcbcb" opacity="0.54"/></g><ellipse cx="607.5" cy="171.0" rx="4.8" ry="19.0" fill="#b5b5b5" opacity="0.32" filter="url(#bl3)"/><g filter="url(#bl07)"><rect x="606.3" y="154.3" width="1.5" height="24.9" fill="#bcbcbc" opacity="0.25"/><rect x="606.4" y="167.8" width="2.0" height="18.0" fill="#cacaca" opacity="0.31"/><rect x="605.5" y="175.0" width="1.5" height="17.1" fill="#bdbdbd" opacity="0.39"/><rect x="605.8" y="149.3" width="1.5" height="12.9" fill="#bcbcbc" opacity="0.35"/><rect x="606.7" y="163.4" width="1.0" height="23.3" fill="#cccccc" opacity="0.52"/><rect x="604.9" y="186.2" width="1.5" height="10.1" fill="#c9c9c9" opacity="0.36"/><rect x="605.2" y="170.9" width="1.5" height="6.5" fill="#c0c0c0" opacity="0.35"/><rect x="606.3" y="157.5" width="1.0" height="21.5" fill="#d0d0d0" opacity="0.31"/></g><ellipse cx="629.0" cy="178.0" rx="13.8" ry="10.0" fill="#b5b5b5" opacity="0.62" filter="url(#bl6)"/><g filter="url(#bl07)"><rect x="624.3" y="179.5" width="2.0" height="6.7" fill="#c3c3c3" opacity="0.69"/><rect x="618.5" y="184.1" width="1.5" height="6.9" fill="#cdcdcd" opacity="0.51"/><rect x="641.4" y="181.4" width="1.0" height="8.4" fill="#c5c5c5" opacity="0.40"/><rect x="623.2" y="172.5" width="1.0" height="7.7" fill="#bcbcbc" opacity="0.36"/><rect x="618.4" y="174.4" width="1.5" height="19.7" fill="#cbcbcb" opacity="0.36"/><rect x="640.4" y="168.2" width="2.0" height="9.5" fill="#c7c7c7" opacity="0.59"/><rect x="639.9" y="171.9" width="1.0" height="17.8" fill="#d1d1d1" opacity="0.68"/><rect x="635.0" y="164.9" width="1.0" height="16.8" fill="#cdcdcd" opacity="0.54"/><rect x="636.8" y="179.8" width="1.5" height="16.5" fill="#d1d1d1" opacity="0.53"/><rect x="641.0" y="181.8" width="2.0" height="14.3" fill="#cfcfcf" opacity="0.50"/><rect x="636.8" y="160.0" width="1.0" height="15.4" fill="#cecece" opacity="0.47"/><rect x="641.9" y="176.9" width="1.0" height="10.3" fill="#bebebe" opacity="0.75"/><rect x="640.9" y="164.1" width="2.0" height="15.8" fill="#cccccc" opacity="0.52"/><rect x="625.5" y="181.5" width="1.0" height="8.4" fill="#d3d3d3" opacity="0.41"/><rect x="624.1" y="174.6" width="1.5" height="9.5" fill="#cccccc" opacity="0.50"/><rect x="627.4" y="171.3" width="1.0" height="17.2" fill="#bebebe" opacity="0.55"/><rect x="625.9" y="175.0" width="2.0" height="6.4" fill="#c0c0c0" opacity="0.53"/><rect x="623.6" y="167.0" width="1.0" height="12.5" fill="#d0d0d0" opacity="0.79"/><rect x="635.1" y="172.3" width="2.0" height="11.1" fill="#cdcdcd" opacity="0.76"/><rect x="619.7" y="172.4" width="1.0" height="6.4" fill="#bcbcbc" opacity="0.44"/><rect x="625.3" y="171.2" width="2.0" height="18.7" fill="#bcbcbc" opacity="0.66"/><rect x="631.9" y="173.1" width="1.0" height="12.4" fill="#c5c5c5" opacity="0.76"/><rect x="617.4" y="174.3" width="1.5" height="9.7" fill="#bdbdbd" opacity="0.67"/><rect x="629.1" y="178.7" width="1.5" height="18.0" fill="#c9c9c9" opacity="0.67"/><rect x="624.9" y="170.2" width="1.0" height="14.3" fill="#c1c1c1" opacity="0.42"/></g><ellipse cx="662.5" cy="178.0" rx="20.0" ry="10.0" fill="#b5b5b5" opacity="0.40" filter="url(#bl6)"/><g filter="url(#bl07)"><rect x="657.9" y="164.8" width="1.0" height="16.2" fill="#c5c5c5" opacity="0.51"/><rect x="678.4" y="171.5" width="1.0" height="19.8" fill="#bebebe" opacity="0.49"/><rect x="669.9" y="165.9" width="1.5" height="12.0" fill="#c9c9c9" opacity="0.48"/><rect x="676.1" y="167.6" width="1.5" height="19.6" fill="#cacaca" opacity="0.33"/><rect x="646.5" y="178.4" width="1.0" height="9.9" fill="#cacaca" opacity="0.50"/><rect x="657.0" y="174.5" width="1.0" height="6.2" fill="#bfbfbf" opacity="0.27"/><rect x="673.3" y="178.6" width="1.0" height="14.8" fill="#d1d1d1" opacity="0.27"/><rect x="677.0" y="168.6" width="1.0" height="19.5" fill="#bcbcbc" opacity="0.33"/><rect x="681.4" y="177.9" width="1.5" height="10.6" fill="#c9c9c9" opacity="0.44"/><rect x="674.9" y="177.5" width="1.5" height="10.6" fill="#c2c2c2" opacity="0.31"/><rect x="651.9" y="175.1" width="1.0" height="15.4" fill="#c7c7c7" opacity="0.49"/><rect x="662.4" y="181.4" width="2.0" height="7.9" fill="#c0c0c0" opacity="0.38"/><rect x="643.7" y="171.0" width="1.0" height="12.8" fill="#cfcfcf" opacity="0.36"/><rect x="644.7" y="171.2" width="1.0" height="13.0" fill="#bebebe" opacity="0.51"/><rect x="681.4" y="166.4" width="1.0" height="18.7" fill="#c8c8c8" opacity="0.23"/><rect x="652.6" y="172.3" width="1.5" height="10.9" fill="#bdbdbd" opacity="0.39"/><rect x="655.9" y="169.2" width="1.0" height="5.5" fill="#c5c5c5" opacity="0.40"/><rect x="679.3" y="171.0" width="1.5" height="11.7" fill="#c7c7c7" opacity="0.50"/><rect x="672.5" y="173.3" width="1.0" height="8.4" fill="#c6c6c6" opacity="0.25"/><rect x="646.6" y="172.9" width="1.0" height="14.6" fill="#c0c0c0" opacity="0.42"/><rect x="674.0" y="172.2" width="1.0" height="14.7" fill="#cecece" opacity="0.48"/><rect x="664.5" y="174.9" width="2.0" height="6.1" fill="#cdcdcd" opacity="0.47"/><rect x="663.3" y="164.7" width="1.5" height="15.2" fill="#bfbfbf" opacity="0.24"/><rect x="670.6" y="170.6" width="1.5" height="17.8" fill="#bfbfbf" opacity="0.27"/><rect x="668.7" y="167.6" width="1.0" height="14.3" fill="#c7c7c7" opacity="0.51"/><rect x="662.3" y="171.6" width="2.0" height="11.4" fill="#d1d1d1" opacity="0.36"/><rect x="659.1" y="172.9" width="1.0" height="8.5" fill="#c3c3c3" opacity="0.49"/><rect x="644.3" y="170.9" width="1.0" height="15.9" fill="#c3c3c3" opacity="0.40"/><rect x="659.1" y="174.3" width="2.0" height="6.0" fill="#c7c7c7" opacity="0.46"/><rect x="644.4" y="171.4" width="1.0" height="17.2" fill="#c4c4c4" opacity="0.37"/><rect x="647.4" y="174.2" width="1.0" height="14.3" fill="#d0d0d0" opacity="0.30"/><rect x="671.9" y="164.7" width="1.0" height="14.9" fill="#bebebe" opacity="0.41"/><rect x="669.2" y="180.9" width="2.0" height="8.9" fill="#cccccc" opacity="0.35"/><rect x="663.3" y="177.9" width="1.0" height="7.9" fill="#bcbcbc" opacity="0.29"/><rect x="676.9" y="163.6" width="2.0" height="14.1" fill="#d2d2d2" opacity="0.43"/><rect x="657.4" y="168.2" width="1.0" height="19.3" fill="#d0d0d0" opacity="0.29"/><rect x="664.1" y="164.6" width="1.0" height="13.7" fill="#cecece" opacity="0.24"/></g><g filter="url(#bl3)" style="mix-blend-mode:lighten"><rect x="727.0" y="184.2" width="4.3" height="81.8" fill="#9d9d9d" opacity="0.43"/><rect x="731.3" y="168.0" width="5.6" height="98.0" fill="#9d9d9d" opacity="0.44"/><rect x="736.8" y="170.1" width="3.8" height="95.9" fill="#9d9d9d" opacity="0.41"/><rect x="740.6" y="167.2" width="5.1" height="98.8" fill="#9d9d9d" opacity="0.46"/><rect x="745.7" y="172.1" width="3.4" height="93.9" fill="#9d9d9d" opacity="0.76"/><rect x="749.1" y="175.6" width="5.3" height="90.4" fill="#9d9d9d" opacity="0.57"/><rect x="754.4" y="158.2" width="2.0" height="107.8" fill="#9d9d9d" opacity="0.82"/><rect x="756.4" y="169.4" width="2.5" height="96.6" fill="#9d9d9d" opacity="0.76"/><rect x="758.9" y="160.4" width="4.6" height="105.6" fill="#9d9d9d" opacity="0.75"/><rect x="763.6" y="167.4" width="3.8" height="98.6" fill="#9d9d9d" opacity="0.54"/><rect x="767.4" y="163.1" width="2.0" height="102.9" fill="#9d9d9d" opacity="0.77"/><rect x="769.4" y="162.1" width="3.1" height="103.9" fill="#9d9d9d" opacity="0.60"/><rect x="772.5" y="161.2" width="5.7" height="104.8" fill="#9d9d9d" opacity="0.56"/><rect x="778.2" y="164.9" width="4.2" height="101.1" fill="#9d9d9d" opacity="0.81"/><rect x="782.4" y="158.8" width="5.9" height="107.2" fill="#9d9d9d" opacity="0.83"/><rect x="788.3" y="165.5" width="2.1" height="100.5" fill="#9d9d9d" opacity="0.90"/><rect x="790.4" y="131.6" width="4.7" height="134.4" fill="#9d9d9d" opacity="0.65"/><rect x="795.1" y="175.0" width="2.8" height="91.0" fill="#9d9d9d" opacity="0.63"/><rect x="797.9" y="161.7" width="4.3" height="104.3" fill="#9d9d9d" opacity="0.78"/><rect x="802.2" y="174.3" width="5.1" height="91.7" fill="#9d9d9d" opacity="0.68"/><rect x="807.3" y="166.2" width="3.0" height="99.8" fill="#9d9d9d" opacity="0.63"/><rect x="810.3" y="165.0" width="3.6" height="101.0" fill="#9d9d9d" opacity="0.57"/><rect x="813.9" y="134.5" width="2.3" height="131.5" fill="#9d9d9d" opacity="0.62"/><rect x="816.2" y="163.2" width="3.7" height="102.8" fill="#9d9d9d" opacity="0.61"/><rect x="819.8" y="172.9" width="2.6" height="93.1" fill="#9d9d9d" opacity="0.46"/><rect x="822.4" y="174.8" width="2.2" height="91.2" fill="#9d9d9d" opacity="0.46"/></g><ellipse cx="775.5" cy="191.0" rx="35.6" ry="24.0" fill="#a9a9a9" opacity="0.40" filter="url(#bl6)"/><rect x="802.4" y="131.8" width="1.0" height="60.8" fill="#a4a4a4" opacity="0.28"/><rect x="815.0" y="139.1" width="1.5" height="53.5" fill="#9b9b9b" opacity="0.22"/><rect x="803.2" y="167.0" width="2.0" height="10.2" fill="#a2a2a2" opacity="0.52"/><rect x="795.1" y="184.8" width="1.0" height="65.0" fill="#a2a2a2" opacity="0.25"/><rect x="771.0" y="175.4" width="1.0" height="88.8" fill="#a5a5a5" opacity="0.42"/><rect x="772.5" y="172.1" width="1.0" height="60.2" fill="#acacac" opacity="0.38"/><rect x="760.6" y="163.7" width="1.0" height="22.8" fill="#9b9b9b" opacity="0.68"/><rect x="738.1" y="168.6" width="1.0" height="76.3" fill="#a6a6a6" opacity="0.40"/><rect x="769.7" y="167.2" width="1.0" height="64.4" fill="#b3b3b3" opacity="0.38"/><rect x="731.6" y="149.0" width="2.0" height="40.5" fill="#9a9a9a" opacity="0.17"/><rect x="811.5" y="146.4" width="1.0" height="28.8" fill="#a2a2a2" opacity="0.36"/><rect x="748.2" y="170.7" width="1.0" height="64.0" fill="#a8a8a8" opacity="0.33"/><rect x="748.0" y="178.1" width="1.0" height="67.5" fill="#acacac" opacity="0.24"/><rect x="769.0" y="149.2" width="1.0" height="47.3" fill="#a5a5a5" opacity="0.31"/><rect x="753.6" y="147.4" width="2.0" height="34.1" fill="#989898" opacity="0.42"/><rect x="794.2" y="185.8" width="1.0" height="73.8" fill="#afafaf" opacity="0.36"/><rect x="795.3" y="134.5" width="1.0" height="68.0" fill="#a4a4a4" opacity="0.37"/><rect x="801.8" y="149.9" width="2.0" height="31.7" fill="#9d9d9d" opacity="0.29"/><rect x="798.9" y="158.3" width="2.0" height="24.3" fill="#9b9b9b" opacity="0.39"/><rect x="768.4" y="157.5" width="1.5" height="47.9" fill="#9c9c9c" opacity="0.47"/><rect x="799.6" y="188.6" width="1.0" height="53.8" fill="#a8a8a8" opacity="0.26"/><rect x="772.6" y="142.1" width="1.0" height="50.1" fill="#9b9b9b" opacity="0.63"/><rect x="798.2" y="163.4" width="1.0" height="13.3" fill="#a3a3a3" opacity="0.56"/><rect x="756.3" y="188.2" width="1.0" height="62.4" fill="#a9a9a9" opacity="0.46"/><rect x="792.5" y="140.3" width="1.5" height="60.4" fill="#9b9b9b" opacity="0.60"/><rect x="822.4" y="173.4" width="1.0" height="74.8" fill="#a0a0a0" opacity="0.30"/><rect x="741.1" y="202.4" width="1.0" height="28.4" fill="#a5a5a5" opacity="0.37"/><rect x="752.0" y="185.6" width="1.0" height="68.0" fill="#aeaeae" opacity="0.48"/><rect x="760.2" y="186.5" width="1.0" height="39.0" fill="#afafaf" opacity="0.45"/><rect x="792.0" y="165.5" width="2.0" height="5.6" fill="#9b9b9b" opacity="0.66"/><rect x="773.9" y="176.4" width="1.0" height="84.6" fill="#aaaaaa" opacity="0.44"/><rect x="769.3" y="188.5" width="1.0" height="56.5" fill="#a7a7a7" opacity="0.41"/><rect x="753.7" y="140.4" width="1.5" height="33.3" fill="#a1a1a1" opacity="0.59"/><rect x="764.5" y="140.4" width="1.5" height="60.5" fill="#9b9b9b" opacity="0.31"/><rect x="773.7" y="137.7" width="1.0" height="61.8" fill="#a1a1a1" opacity="0.42"/><rect x="789.1" y="148.4" width="1.5" height="32.2" fill="#a0a0a0" opacity="0.65"/><rect x="752.3" y="151.8" width="2.0" height="49.8" fill="#a0a0a0" opacity="0.63"/><rect x="778.1" y="153.0" width="2.0" height="36.7" fill="#9f9f9f" opacity="0.60"/><rect x="752.9" y="131.1" width="1.0" height="65.2" fill="#a2a2a2" opacity="0.32"/><rect x="805.0" y="166.7" width="1.0" height="37.8" fill="#a1a1a1" opacity="0.51"/><rect x="769.0" y="174.6" width="1.0" height="82.7" fill="#a6a6a6" opacity="0.42"/><rect x="818.6" y="195.7" width="1.0" height="50.9" fill="#a1a1a1" opacity="0.16"/><rect x="785.5" y="136.7" width="1.0" height="38.4" fill="#9f9f9f" opacity="0.34"/><rect x="751.3" y="170.9" width="1.0" height="67.0" fill="#b2b2b2" opacity="0.34"/><rect x="742.5" y="180.0" width="1.0" height="76.6" fill="#a7a7a7" opacity="0.41"/><rect x="806.4" y="152.5" width="1.0" height="34.1" fill="#9a9a9a" opacity="0.28"/><rect x="780.9" y="138.4" width="1.0" height="37.2" fill="#9c9c9c" opacity="0.37"/><rect x="776.2" y="136.5" width="2.0" height="39.2" fill="#a2a2a2" opacity="0.63"/><rect x="766.1" y="140.5" width="2.0" height="53.4" fill="#a4a4a4" opacity="0.65"/><rect x="768.3" y="161.9" width="2.0" height="30.2" fill="#989898" opacity="0.49"/><rect x="764.0" y="167.7" width="1.0" height="97.6" fill="#a1a1a1" opacity="0.52"/><rect x="762.0" y="152.2" width="1.0" height="31.2" fill="#a1a1a1" opacity="0.66"/><rect x="776.4" y="170.0" width="1.0" height="71.6" fill="#a7a7a7" opacity="0.54"/><rect x="802.5" y="195.4" width="1.0" height="64.2" fill="#a3a3a3" opacity="0.29"/><rect x="797.0" y="163.8" width="2.0" height="24.8" fill="#a1a1a1" opacity="0.53"/><rect x="764.1" y="169.7" width="1.0" height="89.6" fill="#aeaeae" opacity="0.48"/><rect x="773.0" y="167.8" width="1.0" height="83.4" fill="#b1b1b1" opacity="0.39"/><rect x="798.3" y="186.1" width="1.0" height="69.6" fill="#a9a9a9" opacity="0.26"/><rect x="777.7" y="172.6" width="1.0" height="69.2" fill="#b0b0b0" opacity="0.25"/><rect x="810.0" y="146.5" width="1.5" height="49.0" fill="#a1a1a1" opacity="0.51"/><rect x="801.6" y="167.2" width="1.0" height="95.3" fill="#a2a2a2" opacity="0.26"/><rect x="770.1" y="134.8" width="2.0" height="69.4" fill="#a4a4a4" opacity="0.58"/><rect x="821.1" y="140.2" width="2.0" height="53.2" fill="#9b9b9b" opacity="0.23"/><rect x="730.2" y="167.0" width="1.0" height="17.2" fill="#9a9a9a" opacity="0.40"/><rect x="810.6" y="145.4" width="1.0" height="38.5" fill="#999999" opacity="0.52"/><rect x="743.9" y="180.3" width="1.0" height="42.4" fill="#acacac" opacity="0.26"/><rect x="812.4" y="158.3" width="1.0" height="28.0" fill="#a4a4a4" opacity="0.44"/><rect x="730.0" y="177.0" width="1.0" height="46.8" fill="#a4a4a4" opacity="0.33"/><rect x="787.0" y="201.3" width="1.0" height="43.2" fill="#a4a4a4" opacity="0.44"/><rect x="809.9" y="197.2" width="1.0" height="29.1" fill="#adadad" opacity="0.22"/><rect x="785.0" y="180.5" width="1.0" height="47.6" fill="#acacac" opacity="0.34"/><ellipse cx="727.0" cy="178.0" rx="9.1" ry="10.0" fill="#b5b5b5" opacity="0.15" filter="url(#bl3)"/><g filter="url(#bl07)"><rect x="727.1" y="167.0" width="1.0" height="12.9" fill="#c6c6c6" opacity="0.19"/><rect x="726.1" y="154.2" width="1.5" height="19.3" fill="#cfcfcf" opacity="0.20"/><rect x="727.1" y="162.0" width="1.0" height="18.5" fill="#c8c8c8" opacity="0.13"/><rect x="720.9" y="177.4" width="1.0" height="18.6" fill="#bdbdbd" opacity="0.12"/><rect x="724.3" y="177.3" width="2.0" height="10.5" fill="#c3c3c3" opacity="0.10"/><rect x="719.7" y="173.2" width="1.5" height="15.2" fill="#c1c1c1" opacity="0.14"/><rect x="724.8" y="166.5" width="1.0" height="16.2" fill="#cacaca" opacity="0.20"/><rect x="732.0" y="171.8" width="1.0" height="13.1" fill="#c4c4c4" opacity="0.10"/><rect x="726.2" y="178.6" width="1.0" height="5.6" fill="#c5c5c5" opacity="0.13"/><rect x="725.1" y="167.0" width="1.5" height="7.0" fill="#cccccc" opacity="0.19"/><rect x="727.1" y="176.3" width="1.0" height="6.3" fill="#bebebe" opacity="0.12"/><rect x="730.4" y="174.7" width="2.0" height="7.8" fill="#c4c4c4" opacity="0.14"/><rect x="731.6" y="177.9" width="2.0" height="5.6" fill="#d0d0d0" opacity="0.18"/><rect x="725.2" y="177.5" width="1.5" height="12.7" fill="#c7c7c7" opacity="0.14"/><rect x="729.2" y="165.4" width="1.0" height="19.7" fill="#c0c0c0" opacity="0.11"/><rect x="732.5" y="161.0" width="1.0" height="11.5" fill="#d0d0d0" opacity="0.12"/></g><ellipse cx="750.0" cy="178.0" rx="11.0" ry="10.0" fill="#b5b5b5" opacity="0.19" filter="url(#bl6)"/><g filter="url(#bl07)"><rect x="744.4" y="169.7" width="1.5" height="6.1" fill="#c9c9c9" opacity="0.15"/><rect x="746.8" y="167.1" width="2.0" height="10.4" fill="#cccccc" opacity="0.13"/><rect x="753.4" y="171.7" width="1.0" height="16.7" fill="#cccccc" opacity="0.23"/><rect x="747.9" y="173.1" width="1.5" height="16.9" fill="#c0c0c0" opacity="0.19"/><rect x="749.7" y="166.6" width="2.0" height="11.4" fill="#cacaca" opacity="0.13"/><rect x="743.5" y="169.6" width="1.5" height="7.1" fill="#c9c9c9" opacity="0.23"/><rect x="747.7" y="156.7" width="2.0" height="18.5" fill="#c2c2c2" opacity="0.19"/><rect x="743.5" y="165.4" width="1.0" height="6.5" fill="#c5c5c5" opacity="0.16"/><rect x="744.0" y="166.7" width="1.0" height="19.6" fill="#cfcfcf" opacity="0.11"/><rect x="750.5" y="173.3" width="1.0" height="13.6" fill="#c9c9c9" opacity="0.24"/><rect x="757.8" y="170.5" width="2.0" height="18.2" fill="#cbcbcb" opacity="0.11"/><rect x="741.3" y="170.6" width="1.5" height="17.5" fill="#c2c2c2" opacity="0.23"/><rect x="756.3" y="184.3" width="1.5" height="5.2" fill="#c2c2c2" opacity="0.23"/><rect x="756.2" y="181.2" width="2.0" height="7.9" fill="#d2d2d2" opacity="0.13"/><rect x="753.6" y="164.0" width="2.0" height="13.4" fill="#d1d1d1" opacity="0.12"/><rect x="754.1" y="180.3" width="1.5" height="15.1" fill="#cecece" opacity="0.19"/><rect x="749.3" y="176.1" width="1.0" height="16.1" fill="#d1d1d1" opacity="0.21"/><rect x="755.5" y="171.5" width="1.0" height="12.0" fill="#cbcbcb" opacity="0.20"/><rect x="745.4" y="173.6" width="1.0" height="11.9" fill="#cbcbcb" opacity="0.14"/><rect x="740.9" y="163.3" width="1.0" height="7.7" fill="#cacaca" opacity="0.22"/></g><ellipse cx="767.5" cy="168.9" rx="7.7" ry="21.7" fill="#b5b5b5" opacity="0.36" filter="url(#bl3)"/><g filter="url(#bl07)"><rect x="764.5" y="170.1" width="1.5" height="10.0" fill="#cccccc" opacity="0.44"/><rect x="762.7" y="170.6" width="1.0" height="18.3" fill="#c7c7c7" opacity="0.47"/><rect x="763.3" y="143.4" width="1.0" height="34.5" fill="#cecece" opacity="0.64"/><rect x="772.2" y="140.4" width="1.0" height="30.9" fill="#cbcbcb" opacity="0.38"/><rect x="764.0" y="170.9" width="1.0" height="26.3" fill="#c2c2c2" opacity="0.37"/><rect x="761.7" y="163.7" width="2.0" height="8.9" fill="#c6c6c6" opacity="0.29"/><rect x="763.7" y="164.4" width="1.5" height="11.3" fill="#d2d2d2" opacity="0.48"/><rect x="773.9" y="156.9" width="1.0" height="12.6" fill="#c7c7c7" opacity="0.62"/><rect x="766.6" y="167.3" width="1.5" height="7.9" fill="#c1c1c1" opacity="0.33"/><rect x="766.4" y="179.0" width="2.0" height="18.4" fill="#cccccc" opacity="0.41"/><rect x="764.0" y="182.3" width="1.5" height="14.1" fill="#c2c2c2" opacity="0.31"/><rect x="770.7" y="167.7" width="1.0" height="12.6" fill="#bcbcbc" opacity="0.38"/><rect x="771.9" y="143.9" width="1.0" height="35.1" fill="#cbcbcb" opacity="0.42"/></g><ellipse cx="789.0" cy="172.8" rx="5.3" ry="16.8" fill="#b5b5b5" opacity="0.34" filter="url(#bl3)"/><g filter="url(#bl07)"><rect x="787.2" y="165.7" width="1.0" height="15.8" fill="#c2c2c2" opacity="0.30"/><rect x="790.1" y="180.4" width="1.5" height="24.6" fill="#bcbcbc" opacity="0.42"/><rect x="787.5" y="167.8" width="1.0" height="14.0" fill="#d3d3d3" opacity="0.37"/><rect x="787.6" y="178.9" width="1.0" height="8.1" fill="#cfcfcf" opacity="0.37"/><rect x="787.9" y="169.8" width="1.0" height="5.3" fill="#bdbdbd" opacity="0.20"/><rect x="789.8" y="177.8" width="1.0" height="10.0" fill="#d3d3d3" opacity="0.21"/><rect x="787.1" y="168.8" width="1.0" height="6.9" fill="#cdcdcd" opacity="0.23"/><rect x="785.9" y="173.6" width="1.5" height="6.1" fill="#c1c1c1" opacity="0.39"/><rect x="791.1" y="163.3" width="1.0" height="20.1" fill="#d1d1d1" opacity="0.20"/></g><ellipse cx="805.0" cy="170.3" rx="8.1" ry="19.9" fill="#b5b5b5" opacity="0.34" filter="url(#bl3)"/><g filter="url(#bl07)"><rect x="805.2" y="167.3" width="1.5" height="9.3" fill="#d0d0d0" opacity="0.31"/><rect x="800.9" y="156.7" width="1.5" height="6.8" fill="#c4c4c4" opacity="0.33"/><rect x="804.9" y="136.3" width="1.0" height="25.7" fill="#c0c0c0" opacity="0.53"/><rect x="798.7" y="176.3" width="1.0" height="10.0" fill="#bdbdbd" opacity="0.55"/><rect x="810.4" y="161.9" width="2.0" height="23.3" fill="#d1d1d1" opacity="0.34"/><rect x="806.5" y="184.1" width="1.0" height="6.1" fill="#c4c4c4" opacity="0.40"/><rect x="809.7" y="158.8" width="1.0" height="23.6" fill="#c5c5c5" opacity="0.45"/><rect x="807.2" y="150.6" width="2.0" height="25.3" fill="#c8c8c8" opacity="0.48"/><rect x="799.1" y="169.7" width="1.0" height="11.6" fill="#cdcdcd" opacity="0.32"/><rect x="810.2" y="167.4" width="1.5" height="28.2" fill="#c5c5c5" opacity="0.32"/><rect x="810.3" y="159.7" width="1.0" height="18.9" fill="#d1d1d1" opacity="0.47"/><rect x="804.8" y="155.4" width="1.0" height="31.7" fill="#bebebe" opacity="0.59"/><rect x="804.4" y="158.2" width="1.0" height="11.7" fill="#c7c7c7" opacity="0.28"/><rect x="808.2" y="157.1" width="1.0" height="28.8" fill="#bfbfbf" opacity="0.51"/></g><g filter="url(#bl3)" style="mix-blend-mode:lighten"><rect x="861.0" y="166.1" width="2.4" height="99.9" fill="#9d9d9d" opacity="0.12"/><rect x="863.4" y="171.6" width="4.8" height="94.4" fill="#9d9d9d" opacity="0.11"/><rect x="868.2" y="168.4" width="3.6" height="97.6" fill="#9d9d9d" opacity="0.14"/><rect x="871.8" y="178.0" width="3.2" height="88.0" fill="#9d9d9d" opacity="0.12"/><rect x="875.0" y="161.5" width="5.2" height="104.5" fill="#9d9d9d" opacity="0.15"/><rect x="880.2" y="166.7" width="5.5" height="99.3" fill="#9d9d9d" opacity="0.16"/><rect x="885.7" y="160.8" width="4.8" height="105.2" fill="#9d9d9d" opacity="0.18"/><rect x="890.6" y="162.7" width="3.2" height="103.3" fill="#9d9d9d" opacity="0.21"/><rect x="893.7" y="165.7" width="3.8" height="100.3" fill="#9d9d9d" opacity="0.19"/><rect x="897.5" y="152.6" width="2.6" height="113.4" fill="#9d9d9d" opacity="0.15"/><rect x="900.1" y="170.7" width="2.0" height="95.3" fill="#9d9d9d" opacity="0.22"/><rect x="902.1" y="152.6" width="5.0" height="113.4" fill="#9d9d9d" opacity="0.17"/><rect x="907.1" y="164.8" width="2.4" height="101.2" fill="#9d9d9d" opacity="0.22"/><rect x="909.6" y="169.8" width="3.2" height="96.2" fill="#9d9d9d" opacity="0.15"/><rect x="912.8" y="170.4" width="2.7" height="95.6" fill="#9d9d9d" opacity="0.14"/><rect x="915.5" y="161.0" width="2.4" height="105.0" fill="#9d9d9d" opacity="0.20"/><rect x="917.9" y="156.5" width="2.3" height="109.5" fill="#9d9d9d" opacity="0.14"/><rect x="920.2" y="168.2" width="5.1" height="97.8" fill="#9d9d9d" opacity="0.20"/><rect x="925.3" y="172.5" width="2.7" height="93.5" fill="#9d9d9d" opacity="0.12"/><rect x="928.0" y="163.9" width="3.9" height="102.1" fill="#9d9d9d" opacity="0.17"/><rect x="931.8" y="171.4" width="4.6" height="94.6" fill="#9d9d9d" opacity="0.12"/><rect x="936.4" y="171.5" width="5.1" height="94.5" fill="#9d9d9d" opacity="0.14"/></g><rect x="900.5" y="186.1" width="1.0" height="37.3" fill="#b3b3b3" opacity="0.08"/><rect x="885.9" y="150.6" width="1.5" height="52.1" fill="#a4a4a4" opacity="0.16"/><rect x="865.4" y="178.8" width="1.5" height="9.7" fill="#a3a3a3" opacity="0.06"/><rect x="863.2" y="203.3" width="1.0" height="35.7" fill="#adadad" opacity="0.03"/><rect x="933.4" y="178.0" width="1.5" height="17.1" fill="#989898" opacity="0.07"/><rect x="885.9" y="145.2" width="1.0" height="41.5" fill="#9c9c9c" opacity="0.11"/><rect x="907.8" y="155.6" width="1.0" height="38.3" fill="#a2a2a2" opacity="0.18"/><rect x="879.9" y="156.1" width="1.0" height="17.0" fill="#999999" opacity="0.07"/><rect x="862.2" y="149.9" width="1.0" height="22.3" fill="#a1a1a1" opacity="0.09"/><rect x="932.0" y="170.5" width="1.0" height="83.8" fill="#a0a0a0" opacity="0.05"/><rect x="881.5" y="146.4" width="1.5" height="32.8" fill="#a2a2a2" opacity="0.11"/><rect x="903.8" y="189.6" width="1.0" height="34.8" fill="#a9a9a9" opacity="0.08"/><rect x="897.8" y="173.9" width="1.0" height="61.6" fill="#ababab" opacity="0.12"/><rect x="885.2" y="159.0" width="1.0" height="44.5" fill="#a3a3a3" opacity="0.14"/><rect x="875.5" y="152.4" width="2.0" height="19.4" fill="#9b9b9b" opacity="0.12"/><rect x="887.0" y="176.8" width="1.5" height="13.8" fill="#9f9f9f" opacity="0.10"/><rect x="936.9" y="142.8" width="2.0" height="43.1" fill="#9c9c9c" opacity="0.10"/><rect x="893.0" y="158.2" width="1.0" height="46.1" fill="#a0a0a0" opacity="0.12"/><rect x="923.5" y="175.2" width="1.0" height="22.7" fill="#a2a2a2" opacity="0.13"/><rect x="933.9" y="176.8" width="1.0" height="53.3" fill="#adadad" opacity="0.06"/><rect x="887.6" y="182.2" width="1.0" height="77.9" fill="#a4a4a4" opacity="0.13"/><rect x="933.8" y="167.1" width="2.0" height="13.1" fill="#9f9f9f" opacity="0.10"/><rect x="868.6" y="194.8" width="1.0" height="66.3" fill="#b3b3b3" opacity="0.08"/><rect x="907.4" y="156.6" width="1.5" height="35.5" fill="#9a9a9a" opacity="0.12"/><rect x="877.1" y="153.7" width="1.0" height="40.5" fill="#a3a3a3" opacity="0.13"/><rect x="880.6" y="145.2" width="1.5" height="28.7" fill="#989898" opacity="0.11"/><rect x="919.5" y="173.1" width="2.0" height="10.5" fill="#9e9e9e" opacity="0.11"/><rect x="902.0" y="203.2" width="1.0" height="31.4" fill="#b2b2b2" opacity="0.07"/><rect x="884.8" y="158.6" width="1.0" height="42.4" fill="#a5a5a5" opacity="0.14"/><rect x="880.8" y="201.7" width="1.0" height="19.4" fill="#b3b3b3" opacity="0.10"/><rect x="879.6" y="152.0" width="2.0" height="46.1" fill="#9c9c9c" opacity="0.10"/><rect x="910.9" y="144.4" width="2.0" height="49.8" fill="#989898" opacity="0.13"/><rect x="873.9" y="150.0" width="1.0" height="40.9" fill="#a2a2a2" opacity="0.07"/><rect x="885.9" y="170.5" width="1.5" height="33.6" fill="#a1a1a1" opacity="0.17"/><rect x="901.6" y="150.6" width="1.0" height="54.9" fill="#999999" opacity="0.11"/><rect x="931.0" y="165.0" width="2.0" height="28.0" fill="#a3a3a3" opacity="0.09"/><rect x="882.7" y="148.7" width="1.0" height="50.3" fill="#9a9a9a" opacity="0.12"/><rect x="864.5" y="154.6" width="1.0" height="48.2" fill="#a1a1a1" opacity="0.05"/><rect x="882.5" y="151.2" width="1.0" height="42.3" fill="#9a9a9a" opacity="0.12"/><rect x="864.2" y="152.5" width="1.5" height="31.7" fill="#a1a1a1" opacity="0.08"/><rect x="903.6" y="176.8" width="1.0" height="77.1" fill="#b1b1b1" opacity="0.08"/><rect x="877.0" y="188.2" width="1.0" height="68.5" fill="#afafaf" opacity="0.05"/><rect x="865.0" y="159.4" width="2.0" height="33.6" fill="#a5a5a5" opacity="0.05"/><rect x="928.4" y="175.4" width="1.0" height="47.1" fill="#afafaf" opacity="0.05"/><rect x="892.3" y="141.1" width="1.0" height="53.8" fill="#a3a3a3" opacity="0.10"/><rect x="912.1" y="150.9" width="1.0" height="53.9" fill="#9c9c9c" opacity="0.13"/><rect x="888.6" y="198.9" width="1.0" height="47.2" fill="#a6a6a6" opacity="0.12"/><rect x="867.2" y="142.8" width="1.0" height="29.9" fill="#a3a3a3" opacity="0.11"/><rect x="930.3" y="147.8" width="1.0" height="51.4" fill="#a2a2a2" opacity="0.09"/><rect x="867.1" y="180.7" width="1.0" height="75.4" fill="#b0b0b0" opacity="0.08"/><rect x="867.4" y="157.5" width="1.0" height="21.8" fill="#a1a1a1" opacity="0.06"/><rect x="918.5" y="161.9" width="2.0" height="27.5" fill="#9d9d9d" opacity="0.13"/><rect x="933.4" y="174.1" width="1.0" height="30.4" fill="#9b9b9b" opacity="0.09"/><rect x="909.0" y="164.1" width="1.0" height="9.5" fill="#9e9e9e" opacity="0.14"/><rect x="931.1" y="177.1" width="1.0" height="55.2" fill="#adadad" opacity="0.10"/><rect x="904.8" y="154.6" width="1.5" height="44.4" fill="#a4a4a4" opacity="0.17"/><g filter="url(#bl3)" style="mix-blend-mode:lighten"><rect x="959.0" y="163.2" width="4.9" height="102.8" fill="#9d9d9d" opacity="0.15"/><rect x="963.9" y="180.2" width="4.1" height="85.8" fill="#9d9d9d" opacity="0.16"/><rect x="968.0" y="173.3" width="2.3" height="92.7" fill="#9d9d9d" opacity="0.19"/><rect x="970.3" y="176.2" width="5.1" height="89.8" fill="#9d9d9d" opacity="0.23"/><rect x="975.4" y="165.7" width="3.2" height="100.3" fill="#9d9d9d" opacity="0.22"/><rect x="978.6" y="160.8" width="4.4" height="105.2" fill="#9d9d9d" opacity="0.26"/><rect x="982.9" y="173.2" width="4.6" height="92.8" fill="#9d9d9d" opacity="0.26"/><rect x="987.5" y="165.5" width="2.4" height="100.5" fill="#9d9d9d" opacity="0.23"/><rect x="990.0" y="161.0" width="5.6" height="105.0" fill="#9d9d9d" opacity="0.23"/><rect x="995.6" y="170.4" width="5.9" height="95.6" fill="#9d9d9d" opacity="0.14"/></g><rect x="974.6" y="165.3" width="1.5" height="37.3" fill="#a0a0a0" opacity="0.18"/><rect x="981.5" y="157.6" width="1.5" height="17.2" fill="#989898" opacity="0.19"/><rect x="964.2" y="164.5" width="1.5" height="9.2" fill="#9a9a9a" opacity="0.09"/><rect x="974.7" y="190.1" width="1.0" height="72.6" fill="#a9a9a9" opacity="0.17"/><rect x="984.2" y="187.6" width="1.0" height="58.5" fill="#b0b0b0" opacity="0.10"/><rect x="985.3" y="190.8" width="1.0" height="60.5" fill="#a9a9a9" opacity="0.12"/><rect x="992.5" y="177.5" width="2.0" height="-4.4" fill="#a2a2a2" opacity="0.14"/><rect x="991.1" y="177.4" width="2.0" height="-4.7" fill="#a3a3a3" opacity="0.12"/><rect x="961.6" y="161.9" width="1.5" height="25.4" fill="#a2a2a2" opacity="0.05"/><rect x="982.9" y="149.9" width="1.0" height="46.2" fill="#9b9b9b" opacity="0.14"/><rect x="994.4" y="184.2" width="1.0" height="48.9" fill="#b2b2b2" opacity="0.06"/><rect x="991.3" y="147.7" width="2.0" height="48.7" fill="#a3a3a3" opacity="0.08"/><rect x="962.9" y="175.3" width="2.0" height="27.8" fill="#a2a2a2" opacity="0.08"/><rect x="991.1" y="143.9" width="1.0" height="46.0" fill="#9a9a9a" opacity="0.12"/><rect x="970.9" y="149.3" width="1.5" height="40.7" fill="#9e9e9e" opacity="0.11"/><rect x="963.0" y="145.2" width="1.5" height="33.5" fill="#9e9e9e" opacity="0.07"/><rect x="972.6" y="149.8" width="1.5" height="22.9" fill="#a4a4a4" opacity="0.12"/><rect x="967.2" y="160.8" width="1.5" height="35.8" fill="#9b9b9b" opacity="0.15"/><rect x="972.1" y="145.2" width="1.0" height="39.9" fill="#989898" opacity="0.11"/><rect x="980.6" y="193.5" width="1.0" height="58.4" fill="#aeaeae" opacity="0.14"/><rect x="965.8" y="151.3" width="1.0" height="19.9" fill="#a5a5a5" opacity="0.11"/><rect x="988.9" y="141.7" width="1.5" height="48.6" fill="#a1a1a1" opacity="0.11"/><rect x="967.4" y="172.9" width="1.5" height="30.9" fill="#a3a3a3" opacity="0.09"/><rect x="993.2" y="183.2" width="1.0" height="68.7" fill="#a6a6a6" opacity="0.09"/><rect x="968.7" y="150.9" width="1.5" height="51.6" fill="#a3a3a3" opacity="0.16"/><g filter="url(#bl1)" style="mix-blend-mode:lighten"><rect x="59.0" y="132.6" width="2.0" height="40.4" fill="#9e9e9e" opacity="0.52"/><rect x="62.0" y="132.9" width="1.0" height="40.1" fill="#9d9d9d" opacity="0.54"/><rect x="64.0" y="139.8" width="2.0" height="33.2" fill="#9a9a9a" opacity="0.75"/><rect x="78.0" y="143.7" width="2.0" height="29.3" fill="#9c9c9c" opacity="0.51"/><rect x="80.0" y="141.6" width="1.5" height="31.4" fill="#9b9b9b" opacity="0.84"/><rect x="81.5" y="138.6" width="1.0" height="34.4" fill="#9e9e9e" opacity="0.77"/><rect x="83.5" y="135.8" width="1.0" height="37.2" fill="#9f9f9f" opacity="0.90"/><rect x="85.5" y="139.9" width="2.0" height="33.1" fill="#9e9e9e" opacity="0.52"/><rect x="87.5" y="137.6" width="1.5" height="35.4" fill="#9f9f9f" opacity="0.84"/><rect x="40.0" y="146.9" width="2.0" height="26.1" fill="#9e9e9e" opacity="0.56"/><rect x="42.0" y="146.2" width="1.5" height="26.8" fill="#9e9e9e" opacity="0.62"/><rect x="43.5" y="146.9" width="2.0" height="26.1" fill="#a1a1a1" opacity="0.65"/><rect x="45.5" y="151.4" width="1.0" height="21.6" fill="#9d9d9d" opacity="0.52"/><rect x="46.5" y="144.0" width="1.0" height="29.0" fill="#a0a0a0" opacity="0.81"/><rect x="191.0" y="138.1" width="1.5" height="34.9" fill="#9c9c9c" opacity="0.80"/><rect x="192.5" y="143.6" width="1.0" height="29.4" fill="#a1a1a1" opacity="0.84"/><rect x="193.5" y="143.9" width="1.5" height="29.1" fill="#a0a0a0" opacity="0.82"/><rect x="222.0" y="134.5" width="2.0" height="38.5" fill="#9f9f9f" opacity="0.73"/><rect x="224.0" y="143.7" width="1.5" height="29.3" fill="#9b9b9b" opacity="0.65"/><rect x="226.5" y="145.6" width="1.0" height="27.4" fill="#a1a1a1" opacity="0.85"/><rect x="227.5" y="138.9" width="1.0" height="34.1" fill="#9e9e9e" opacity="0.68"/><rect x="228.5" y="138.1" width="1.5" height="34.9" fill="#a1a1a1" opacity="0.65"/><rect x="230.0" y="140.2" width="1.5" height="32.8" fill="#a1a1a1" opacity="0.89"/><rect x="246.0" y="149.6" width="2.0" height="23.4" fill="#a0a0a0" opacity="0.61"/><rect x="248.0" y="150.2" width="1.0" height="22.8" fill="#a0a0a0" opacity="0.77"/><rect x="335.0" y="151.3" width="2.0" height="21.7" fill="#a1a1a1" opacity="0.55"/><rect x="337.0" y="141.4" width="1.5" height="31.6" fill="#9e9e9e" opacity="0.61"/><rect x="338.5" y="141.0" width="1.5" height="32.0" fill="#9a9a9a" opacity="0.72"/><rect x="341.0" y="144.5" width="1.5" height="28.5" fill="#9b9b9b" opacity="0.81"/><rect x="368.0" y="146.6" width="1.0" height="26.4" fill="#9e9e9e" opacity="0.62"/><rect x="370.0" y="142.8" width="2.0" height="30.2" fill="#9c9c9c" opacity="0.74"/><rect x="373.0" y="144.2" width="1.0" height="28.8" fill="#9f9f9f" opacity="0.83"/><rect x="382.0" y="145.3" width="1.0" height="27.7" fill="#a0a0a0" opacity="0.66"/><rect x="383.0" y="141.1" width="1.5" height="31.9" fill="#9c9c9c" opacity="0.51"/><rect x="385.5" y="149.8" width="2.0" height="23.2" fill="#9c9c9c" opacity="0.85"/><rect x="480.0" y="139.2" width="1.5" height="33.8" fill="#a0a0a0" opacity="0.84"/><rect x="481.5" y="146.2" width="1.0" height="26.8" fill="#9b9b9b" opacity="0.54"/><rect x="482.5" y="138.3" width="2.0" height="34.7" fill="#9e9e9e" opacity="0.71"/><rect x="484.5" y="136.8" width="1.5" height="36.2" fill="#a0a0a0" opacity="0.55"/><rect x="486.0" y="139.6" width="1.5" height="33.4" fill="#9c9c9c" opacity="0.70"/><rect x="487.5" y="145.4" width="1.5" height="27.6" fill="#9d9d9d" opacity="0.64"/><rect x="489.0" y="140.7" width="1.5" height="32.3" fill="#a0a0a0" opacity="0.65"/><rect x="490.5" y="144.6" width="1.0" height="28.4" fill="#9b9b9b" opacity="0.73"/><rect x="491.5" y="145.0" width="2.0" height="28.0" fill="#a1a1a1" opacity="0.51"/><rect x="494.5" y="144.1" width="2.0" height="28.9" fill="#a0a0a0" opacity="0.81"/><rect x="496.5" y="136.8" width="1.0" height="36.2" fill="#9f9f9f" opacity="0.75"/><rect x="501.0" y="139.8" width="2.0" height="33.2" fill="#9a9a9a" opacity="0.52"/><rect x="504.0" y="143.5" width="2.0" height="29.5" fill="#9a9a9a" opacity="0.86"/><rect x="506.0" y="143.9" width="2.0" height="29.1" fill="#a0a0a0" opacity="0.77"/><rect x="508.0" y="152.5" width="1.5" height="20.5" fill="#9d9d9d" opacity="0.83"/><rect x="509.5" y="148.1" width="1.0" height="24.9" fill="#a1a1a1" opacity="0.52"/><rect x="517.0" y="151.3" width="2.0" height="21.7" fill="#a1a1a1" opacity="0.74"/><rect x="519.0" y="144.9" width="1.0" height="28.1" fill="#9e9e9e" opacity="0.57"/><rect x="520.0" y="156.4" width="1.5" height="16.6" fill="#9b9b9b" opacity="0.58"/><rect x="522.5" y="150.1" width="1.5" height="22.9" fill="#a1a1a1" opacity="0.63"/><rect x="605.0" y="154.9" width="1.5" height="18.1" fill="#a1a1a1" opacity="0.58"/><rect x="606.5" y="150.0" width="1.5" height="23.0" fill="#9c9c9c" opacity="0.51"/><rect x="608.0" y="150.1" width="1.5" height="22.9" fill="#a0a0a0" opacity="0.66"/><rect x="609.5" y="144.5" width="1.0" height="28.5" fill="#9e9e9e" opacity="0.55"/><rect x="625.0" y="147.2" width="2.0" height="25.8" fill="#9f9f9f" opacity="0.80"/><rect x="628.0" y="154.8" width="1.0" height="18.2" fill="#9a9a9a" opacity="0.70"/><rect x="629.0" y="154.7" width="1.0" height="18.3" fill="#9b9b9b" opacity="0.61"/><rect x="630.0" y="154.5" width="1.5" height="18.5" fill="#9a9a9a" opacity="0.67"/><rect x="631.5" y="146.8" width="1.5" height="26.2" fill="#a0a0a0" opacity="0.57"/><rect x="634.0" y="145.4" width="1.0" height="27.6" fill="#999999" opacity="0.83"/><rect x="650.0" y="146.3" width="2.0" height="26.7" fill="#9b9b9b" opacity="0.88"/><rect x="652.0" y="155.5" width="1.0" height="17.5" fill="#a0a0a0" opacity="0.52"/><rect x="653.0" y="147.8" width="2.0" height="25.2" fill="#9b9b9b" opacity="0.82"/><rect x="656.0" y="147.7" width="1.0" height="25.3" fill="#9a9a9a" opacity="0.50"/><rect x="762.0" y="146.0" width="1.5" height="27.0" fill="#9f9f9f" opacity="0.62"/><rect x="763.5" y="146.7" width="1.0" height="26.3" fill="#9b9b9b" opacity="0.52"/><rect x="764.5" y="143.2" width="1.5" height="29.8" fill="#9a9a9a" opacity="0.89"/><rect x="766.0" y="151.2" width="1.5" height="21.8" fill="#a1a1a1" opacity="0.83"/><rect x="767.5" y="140.2" width="1.5" height="32.8" fill="#9f9f9f" opacity="0.71"/><rect x="770.0" y="147.3" width="2.0" height="25.7" fill="#a1a1a1" opacity="0.84"/><rect x="787.0" y="149.2" width="2.0" height="23.8" fill="#9f9f9f" opacity="0.60"/><rect x="790.0" y="145.7" width="1.0" height="27.3" fill="#a1a1a1" opacity="0.73"/><rect x="799.0" y="144.4" width="1.0" height="28.6" fill="#9f9f9f" opacity="0.79"/><rect x="800.0" y="142.9" width="1.5" height="30.1" fill="#9e9e9e" opacity="0.59"/><rect x="801.5" y="147.9" width="2.0" height="25.1" fill="#9f9f9f" opacity="0.56"/><rect x="803.5" y="142.8" width="1.0" height="30.2" fill="#9c9c9c" opacity="0.60"/><rect x="804.5" y="142.7" width="1.5" height="30.3" fill="#9d9d9d" opacity="0.73"/><rect x="807.0" y="153.7" width="1.0" height="19.3" fill="#9a9a9a" opacity="0.62"/><rect x="808.0" y="144.2" width="1.5" height="28.8" fill="#9d9d9d" opacity="0.63"/><rect x="809.5" y="141.4" width="1.0" height="31.6" fill="#9d9d9d" opacity="0.80"/><rect x="810.5" y="153.8" width="2.0" height="19.2" fill="#9e9e9e" opacity="0.64"/></g><rect x="826.0" y="156.0" width="1.5" height="37.0" fill="#9f9f9f" opacity="0.60"/><rect x="828.0" y="161.0" width="1.5" height="28.0" fill="#9f9f9f" opacity="0.50"/><rect x="845.0" y="159.0" width="1.5" height="32.0" fill="#9f9f9f" opacity="0.60"/><rect x="870.5" y="161.0" width="1.5" height="32.0" fill="#b3b3b3" opacity="0.70"/><rect x="889.0" y="156.0" width="1.5" height="33.0" fill="#9d9d9d" opacity="0.50"/><rect x="944.0" y="161.0" width="1.5" height="32.0" fill="#9d9d9d" opacity="0.50"/><rect x="949.0" y="166.0" width="1.5" height="25.0" fill="#9f9f9f" opacity="0.50"/><rect x="985.0" y="171.0" width="1.5" height="16.0" fill="#b3b3b3" opacity="0.60"/><rect x="973.0" y="216.0" width="1.5" height="21.0" fill="#b3b3b3" opacity="0.60"/><rect x="920.0" y="166.0" width="1.5" height="30.0" fill="#9b9b9b" opacity="0.40"/><rect x="905.0" y="171.0" width="1.5" height="30.0" fill="#9b9b9b" opacity="0.40"/><rect x="834.0" y="152.0" width="28.0" height="1.0" fill="#939393" opacity="0.40"/><rect x="888.0" y="152.0" width="69.0" height="1.0" fill="#939393" opacity="0.40"/><rect x="968.0" y="152.0" width="25.0" height="1.0" fill="#939393" opacity="0.40"/><rect x="48.0" y="115.0" width="71.0" height="1.0" fill="#b1b1b1" opacity="0.90"/><rect x="196.0" y="115.0" width="39.0" height="1.0" fill="#b1b1b1" opacity="0.90"/><rect x="336.0" y="115.0" width="55.0" height="1.0" fill="#b1b1b1" opacity="0.90"/><rect x="361.0" y="124.0" width="24.0" height="1.0" fill="#b1b1b1" opacity="0.90"/><rect x="485.0" y="124.0" width="30.0" height="1.0" fill="#b1b1b1" opacity="0.90"/><rect x="786.0" y="115.0" width="18.0" height="1.0" fill="#b1b1b1" opacity="0.90"/><ellipse cx="225.0" cy="262.0" rx="33.0" ry="8.0" fill="#bdbdbd" opacity="0.95" filter="url(#bl3)"/><ellipse cx="117.0" cy="253.0" rx="18.0" ry="4.0" fill="#afafaf" opacity="0.50" filter="url(#bl3)"/><ellipse cx="475.0" cy="293.0" rx="95.0" ry="28.0" fill="#d3d3d3" opacity="0.85" filter="url(#bl12)"/><ellipse cx="422.0" cy="276.0" rx="17.0" ry="9.0" fill="#d1d1d1" opacity="0.85" filter="url(#bl6)"/><ellipse cx="450.0" cy="277.0" rx="45.0" ry="11.0" fill="#cbcbcb" opacity="0.60" filter="url(#bl6)"/><ellipse cx="570.0" cy="303.0" rx="70.0" ry="11.0" fill="#d3d3d3" opacity="0.70" filter="url(#bl6)"/><ellipse cx="460.0" cy="259.0" rx="90.0" ry="9.0" fill="#b7b7b7" opacity="0.60" filter="url(#bl6)"/><ellipse cx="715.0" cy="308.0" rx="125.0" ry="15.0" fill="#d3d3d3" opacity="0.80" filter="url(#bl12)"/><ellipse cx="813.0" cy="259.0" rx="8.0" ry="4.0" fill="#b7b7b7" opacity="0.70" filter="url(#bl3)"/><ellipse cx="979.0" cy="255.0" rx="18.0" ry="6.0" fill="#b7b7b7" opacity="0.75" filter="url(#bl3)"/><ellipse cx="895.0" cy="268.0" rx="60.0" ry="10.0" fill="#ababab" opacity="0.25" filter="url(#bl12)"/><g filter="url(#bl1)"><rect x="52.0" y="232.6" width="73.0" height="5.8" fill="#b5b5b5" opacity="0.72"/><rect x="132.0" y="232.6" width="16.0" height="5.8" fill="#b5b5b5" opacity="0.72"/><rect x="181.0" y="232.6" width="26.0" height="5.8" fill="#b5b5b5" opacity="0.72"/><rect x="211.0" y="232.6" width="22.0" height="5.8" fill="#b5b5b5" opacity="0.72"/><rect x="237.0" y="232.6" width="29.0" height="5.8" fill="#b5b5b5" opacity="0.72"/><rect x="272.0" y="232.6" width="18.0" height="5.8" fill="#b5b5b5" opacity="0.72"/><rect x="333.0" y="232.6" width="74.0" height="5.8" fill="#b5b5b5" opacity="0.72"/><rect x="503.0" y="232.6" width="48.0" height="5.8" fill="#b5b5b5" opacity="0.72"/><rect x="556.0" y="232.6" width="24.0" height="5.8" fill="#b5b5b5" opacity="0.72"/><rect x="615.0" y="232.6" width="50.0" height="5.8" fill="#b5b5b5" opacity="0.72"/><rect x="673.6" y="232.6" width="23.9" height="5.8" fill="#b5b5b5" opacity="0.72"/><rect x="704.0" y="232.6" width="11.0" height="5.8" fill="#b5b5b5" opacity="0.72"/><rect x="409.0" y="233.6" width="26.0" height="4.0" fill="#afafaf" opacity="0.40"/><rect x="439.0" y="233.6" width="36.0" height="4.0" fill="#afafaf" opacity="0.40"/><rect x="719.0" y="233.6" width="21.0" height="4.0" fill="#afafaf" opacity="0.40"/><rect x="765.0" y="233.6" width="30.0" height="4.0" fill="#afafaf" opacity="0.40"/><rect x="52.0" y="241.0" width="35.0" height="2.5" fill="#ababab" opacity="0.40"/></g><rect x="31.0" y="221.0" width="1.2" height="60.0" fill="#c7c7c7" opacity="0.55"/><rect x="31.0" y="276.0" width="1.5" height="38.0" fill="#d7d7d7" opacity="0.80"/><ellipse cx="32.5" cy="306.0" rx="2.5" ry="9.0" fill="#dfdfdf" opacity="0.90" filter="url(#bl3)"/><rect x="42.0" y="177.0" width="1.0" height="88.0" fill="#bbbbbb" opacity="0.60"/><rect x="369.6" y="226.0" width="1.2" height="35.0" fill="#cfcfcf" opacity="0.60"/><rect x="369.4" y="261.0" width="1.8" height="53.0" fill="#e3e3e3" opacity="0.90"/><rect x="491.4" y="182.0" width="1.6" height="40.0" fill="#efefef" opacity="0.90"/><rect x="491.0" y="221.0" width="2.6" height="93.0" fill="#fbfbfb" opacity="0.95"/><rect x="490.3" y="251.0" width="4.0" height="63.0" fill="#e3e3e3" opacity="0.45"/><rect x="569.8" y="245.0" width="1.6" height="69.0" fill="#e7e7e7" opacity="0.90"/><rect x="757.0" y="201.0" width="1.1" height="113.0" fill="#d3d3d3" opacity="0.70"/><rect x="746.0" y="151.0" width="1.0" height="100.0" fill="#bbbbbb" opacity="0.55"/><rect x="683.6" y="59.0" width="1.0" height="100.0" fill="#979797" opacity="0.50"/><rect x="683.6" y="159.0" width="1.0" height="85.0" fill="#afafaf" opacity="0.60"/><rect x="967.0" y="151.0" width="1.0" height="22.0" fill="#b3b3b3" opacity="0.70"/></g></g>
<g shape-rendering="crispEdges"><rect x="165.50" y="125.5" width="16.12" height="22.0" fill="#00009f"/><rect x="181.02" y="125.5" width="16.12" height="22.0" fill="#0000af"/><rect x="196.53" y="125.5" width="16.12" height="22.0" fill="#0000bf"/><rect x="212.05" y="125.5" width="16.12" height="22.0" fill="#0000cf"/><rect x="227.56" y="125.5" width="16.12" height="22.0" fill="#0000df"/><rect x="243.08" y="125.5" width="16.12" height="22.0" fill="#0000ef"/><rect x="258.59" y="125.5" width="16.12" height="22.0" fill="#0000ff"/><rect x="274.11" y="125.5" width="16.12" height="22.0" fill="#0010ff"/><rect x="289.62" y="125.5" width="16.12" height="22.0" fill="#0020ff"/><rect x="305.14" y="125.5" width="16.12" height="22.0" fill="#0030ff"/><rect x="320.66" y="125.5" width="16.12" height="22.0" fill="#0040ff"/><rect x="336.17" y="125.5" width="16.12" height="22.0" fill="#0050ff"/><rect x="351.69" y="125.5" width="16.12" height="22.0" fill="#0060ff"/><rect x="367.20" y="125.5" width="16.12" height="22.0" fill="#0070ff"/><rect x="382.72" y="125.5" width="16.12" height="22.0" fill="#0080ff"/><rect x="398.23" y="125.5" width="16.12" height="22.0" fill="#008fff"/><rect x="413.75" y="125.5" width="16.12" height="22.0" fill="#009fff"/><rect x="429.27" y="125.5" width="16.12" height="22.0" fill="#00afff"/><rect x="444.78" y="125.5" width="16.12" height="22.0" fill="#00bfff"/><rect x="460.30" y="125.5" width="16.12" height="22.0" fill="#00cfff"/><rect x="475.81" y="125.5" width="16.12" height="22.0" fill="#00dfff"/><rect x="491.33" y="125.5" width="16.12" height="22.0" fill="#00efff"/><rect x="506.84" y="125.5" width="16.12" height="22.0" fill="#00ffff"/><rect x="522.36" y="125.5" width="16.12" height="22.0" fill="#10ffef"/><rect x="537.88" y="125.5" width="16.12" height="22.0" fill="#20ffdf"/><rect x="553.39" y="125.5" width="16.12" height="22.0" fill="#30ffcf"/><rect x="568.91" y="125.5" width="16.12" height="22.0" fill="#40ffbf"/><rect x="584.42" y="125.5" width="16.12" height="22.0" fill="#50ffaf"/><rect x="599.94" y="125.5" width="16.12" height="22.0" fill="#60ff9f"/><rect x="615.45" y="125.5" width="16.12" height="22.0" fill="#70ff8f"/><rect x="630.97" y="125.5" width="16.12" height="22.0" fill="#80ff80"/><rect x="646.48" y="125.5" width="16.12" height="22.0" fill="#8fff70"/><rect x="662.00" y="125.5" width="16.12" height="22.0" fill="#9fff60"/><rect x="677.52" y="125.5" width="16.12" height="22.0" fill="#afff50"/><rect x="693.03" y="125.5" width="16.12" height="22.0" fill="#bfff40"/><rect x="708.55" y="125.5" width="16.12" height="22.0" fill="#cfff30"/><rect x="724.06" y="125.5" width="16.12" height="22.0" fill="#dfff20"/><rect x="739.58" y="125.5" width="16.12" height="22.0" fill="#efff10"/><rect x="755.09" y="125.5" width="16.12" height="22.0" fill="#ffff00"/><rect x="770.61" y="125.5" width="16.12" height="22.0" fill="#ffef00"/><rect x="786.12" y="125.5" width="16.12" height="22.0" fill="#ffdf00"/><rect x="801.64" y="125.5" width="16.12" height="22.0" fill="#ffcf00"/><rect x="817.16" y="125.5" width="16.12" height="22.0" fill="#ffbf00"/><rect x="832.67" y="125.5" width="16.12" height="22.0" fill="#ffaf00"/><rect x="848.19" y="125.5" width="16.12" height="22.0" fill="#ff9f00"/><rect x="863.70" y="125.5" width="16.12" height="22.0" fill="#ff8f00"/><rect x="879.22" y="125.5" width="16.12" height="22.0" fill="#ff8000"/><rect x="894.73" y="125.5" width="16.12" height="22.0" fill="#ff7000"/><rect x="910.25" y="125.5" width="16.12" height="22.0" fill="#ff6000"/><rect x="925.77" y="125.5" width="16.12" height="22.0" fill="#ff5000"/><rect x="941.28" y="125.5" width="16.12" height="22.0" fill="#ff4000"/><rect x="956.80" y="125.5" width="16.12" height="22.0" fill="#ff3000"/><rect x="972.31" y="125.5" width="16.12" height="22.0" fill="#ff2000"/><rect x="987.83" y="125.5" width="16.12" height="22.0" fill="#ff1000"/><rect x="1003.34" y="125.5" width="16.12" height="22.0" fill="#ff0000"/><rect x="1018.86" y="125.5" width="16.12" height="22.0" fill="#ef0000"/><rect x="1034.38" y="125.5" width="16.12" height="22.0" fill="#df0000"/><rect x="1049.89" y="125.5" width="16.12" height="22.0" fill="#cf0000"/><rect x="1065.41" y="125.5" width="16.12" height="22.0" fill="#bf0000"/><rect x="1080.92" y="125.5" width="16.12" height="22.0" fill="#af0000"/><rect x="1096.44" y="125.5" width="16.12" height="22.0" fill="#9f0000"/><rect x="1111.95" y="125.5" width="16.12" height="22.0" fill="#8f0000"/><rect x="1127.47" y="125.5" width="16.12" height="22.0" fill="#800000"/><rect x="1142.98" y="125.5" width="16.12" height="22.0" fill="#700000"/></g>
<rect x="165.5" y="125.5" width="993.0" height="22.0" fill="none" stroke="#000" stroke-width="1"/>
<path d="M220.5 125.5v10.5" stroke="#000" stroke-width="1"/>
<text class="c" x="221.3" y="116.6" text-anchor="middle">-22</text>
<path d="M388.5 125.5v10.5" stroke="#000" stroke-width="1"/>
<text class="c" x="389.3" y="116.6" text-anchor="middle">-20</text>
<path d="M557.0 125.5v10.5" stroke="#000" stroke-width="1"/>
<text class="c" x="557.8" y="116.6" text-anchor="middle">-18</text>
<path d="M726.0 125.5v10.5" stroke="#000" stroke-width="1"/>
<text class="c" x="726.8" y="116.6" text-anchor="middle">-16</text>
<path d="M894.5 125.5v10.5" stroke="#000" stroke-width="1"/>
<text class="c" x="895.3" y="116.6" text-anchor="middle">-14</text>
<path d="M1063.5 125.5v10.5" stroke="#000" stroke-width="1"/>
<text class="c" x="1064.3" y="116.6" text-anchor="middle">-12</text>
<text class="b" x="662.2" y="170.1" text-anchor="middle">Spectrogramm - Geophone Frontside Table z</text>
<text class="b" x="1278.3" y="56.2" text-anchor="end">10^^ PSD [m²/Hz]</text>
<text class="b" x="464.5" y="672.5" text-anchor="middle">Time [hh:mm]</text>
<text class="b" transform="translate(88.5,398) rotate(-90)" text-anchor="middle">Frequency [Hz]</text>
<path d="M154 472.94H165.0M154 458.93H165.0M154 448.06H165.0M154 439.18H165.0M154 431.67H165.0M154 425.17H165.0M154 419.43H165.0M141.5 414.30H165.0M154 380.54H165.0M154 360.79H165.0M154 346.78H165.0M154 335.91H165.0M154 327.03H165.0M154 319.52H165.0M154 313.02H165.0M154 307.28H165.0M141.5 302.15H165.0M154 268.39H165.0M154 248.64H165.0M154 234.63H165.0M154 223.76H165.0M154 214.88H165.0M154 207.37H165.0M154 200.87H165.0M154 195.13H165.0M141.5 190.00H165.0" stroke="#262626" stroke-width="1.1" fill="none"/>
<text class="t" x="126.3" y="421.9" text-anchor="end">10</text><text class="s" x="126.6" y="414.1">0</text>
<text class="t" x="126.3" y="309.8" text-anchor="end">10</text><text class="s" x="126.6" y="301.9">1</text>
<text class="t" x="126.3" y="197.6" text-anchor="end">10</text><text class="s" x="126.6" y="189.8">2</text>
<path d="M165.75 492.4v24.8M289.81 492.4v24.8M413.88 492.4v24.8M537.94 492.4v24.8M662.00 492.4v24.8M786.06 492.4v24.8M910.12 492.4v24.8M1034.19 492.4v24.8M1158.25 492.4v24.8" stroke="#6e6e6e" stroke-width="1.6" fill="none"/>
<path d="M178.16 492.4v12.5M190.56 492.4v12.5M202.97 492.4v12.5M215.38 492.4v12.5M227.78 492.4v12.5M240.19 492.4v12.5M252.59 492.4v12.5M265.00 492.4v12.5M277.41 492.4v12.5M302.22 492.4v12.5M314.62 492.4v12.5M327.03 492.4v12.5M339.44 492.4v12.5M351.84 492.4v12.5M364.25 492.4v12.5M376.66 492.4v12.5M389.06 492.4v12.5M401.47 492.4v12.5M426.28 492.4v12.5M438.69 492.4v12.5M451.09 492.4v12.5M463.50 492.4v12.5M475.91 492.4v12.5M488.31 492.4v12.5M500.72 492.4v12.5M513.12 492.4v12.5M525.53 492.4v12.5M550.34 492.4v12.5M562.75 492.4v12.5M575.16 492.4v12.5M587.56 492.4v12.5M599.97 492.4v12.5M612.38 492.4v12.5M624.78 492.4v12.5M637.19 492.4v12.5M649.59 492.4v12.5M674.41 492.4v12.5M686.81 492.4v12.5M699.22 492.4v12.5M711.62 492.4v12.5M724.03 492.4v12.5M736.44 492.4v12.5M748.84 492.4v12.5M761.25 492.4v12.5M773.66 492.4v12.5M798.47 492.4v12.5M810.88 492.4v12.5M823.28 492.4v12.5M835.69 492.4v12.5M848.09 492.4v12.5M860.50 492.4v12.5M872.91 492.4v12.5M885.31 492.4v12.5M897.72 492.4v12.5M922.53 492.4v12.5M934.94 492.4v12.5M947.34 492.4v12.5M959.75 492.4v12.5M972.16 492.4v12.5M984.56 492.4v12.5M996.97 492.4v12.5M1009.38 492.4v12.5M1021.78 492.4v12.5M1046.59 492.4v12.5M1059.00 492.4v12.5M1071.41 492.4v12.5M1083.81 492.4v12.5M1096.22 492.4v12.5M1108.62 492.4v12.5M1121.03 492.4v12.5M1133.44 492.4v12.5M1145.84 492.4v12.5" stroke="#4a4a4a" stroke-width="1.2" fill="none"/>
<text class="t" x="165.8" y="540" text-anchor="middle">08-07-24 03:01</text>
<text class="t" x="289.8" y="540" text-anchor="middle">08-07-24 23:33</text>
<text class="t" x="413.9" y="540" text-anchor="middle">09-07-24 20:06</text>
<text class="t" x="537.9" y="540" text-anchor="middle">10-07-24 16:38</text>
<text class="t" x="662.0" y="540" text-anchor="middle">11-07-24 13:11</text>
<text class="t" x="786.1" y="540" text-anchor="middle">12-07-24 09:43</text>
<text class="t" x="910.1" y="540" text-anchor="middle">13-07-24 06:16</text>
<text class="t" x="1034.2" y="540" text-anchor="middle">14-07-24 02:48</text>
<text class="t" x="1158.2" y="540" text-anchor="middle">14-07-24 23:21</text>
</svg></body></html>
